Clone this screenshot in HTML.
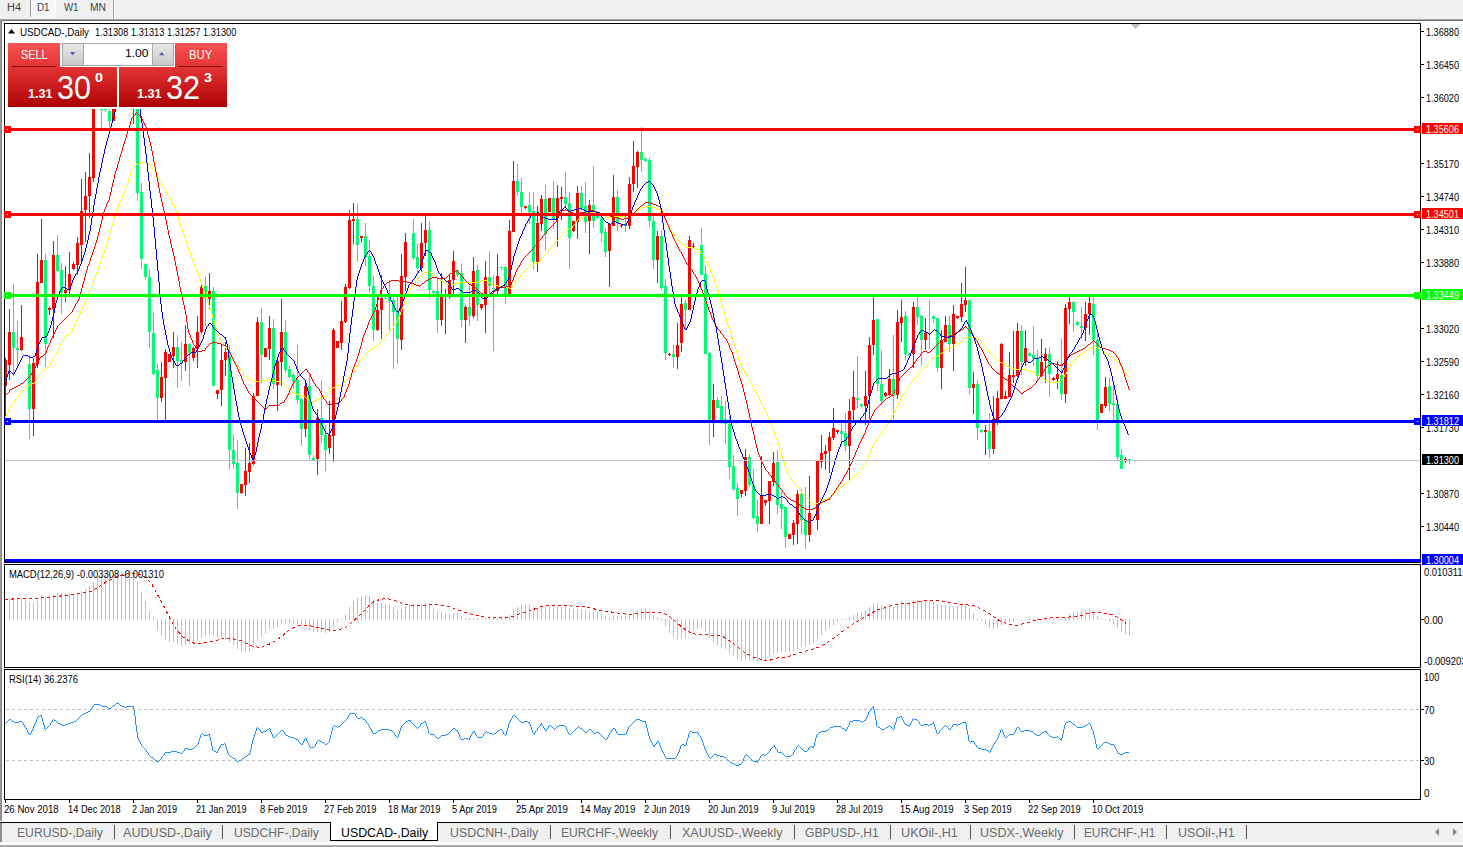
<!DOCTYPE html>
<html><head><meta charset="utf-8"><title>USDCAD-,Daily</title><style>
html,body{margin:0;padding:0;}
body{width:1463px;height:847px;overflow:hidden;background:#fff;position:relative;font-family:"Liberation Sans",sans-serif;}
.abs{position:absolute;}
.x{position:absolute;white-space:pre;}
.t{position:absolute;white-space:nowrap;font-size:11px;line-height:12px;color:#000;letter-spacing:-0.2px;}
.ax{position:absolute;white-space:nowrap;font-size:11px;line-height:12px;color:#000;left:1426px;letter-spacing:-0.3px;}
.axb{position:absolute;left:1421px;width:42px;height:11px;color:#fff;font-size:11px;line-height:11px;white-space:nowrap;letter-spacing:-0.3px;}
.axb span{position:absolute;left:5px;top:0;}
.tab{position:absolute;top:825px;font-size:14.5px;line-height:16px;color:#6a6a6a;white-space:nowrap;letter-spacing:-0.1px;}
.sep{position:absolute;top:825px;width:1px;height:14px;background:#555;}
.tf{position:absolute;top:1px;font-size:11px;line-height:12px;color:#444;white-space:nowrap;}
.dt{position:absolute;top:802px;font-size:11px;line-height:12px;color:#000;white-space:nowrap;letter-spacing:-0.25px;}
</style></head><body>
<div class="abs" style="left:0;top:0;width:1463px;height:19px;background:#f0f0f0"></div>
<div class="abs" style="left:0;top:19px;width:1463px;height:1px;background:#a8a8a8"></div>
<div class="abs" style="left:0;top:20px;width:1463px;height:1px;background:#6e6e6e"></div>
<div class="abs" style="left:31px;top:0;width:24px;height:17px;background:#f8f8f8"></div>
<div class="abs" style="left:55px;top:0;width:1px;height:18px;background:#fff"></div>
<div class="abs" style="left:30px;top:17px;width:26px;height:1px;background:#fff"></div>
<div class="abs" style="left:30px;top:0;width:1px;height:17px;background:#a0a0a0"></div>
<div class="abs" style="left:113px;top:0;width:1px;height:19px;background:#a0a0a0"></div>
<div class="abs" style="left:114px;top:0;width:1px;height:19px;background:#fff"></div>
<div class="x" style="left:7px;top:2.5px;font-size:10px;line-height:10px;color:#404040;transform:scale(1.0952,1.0000);transform-origin:0 0;">H4</div>
<div class="x" style="left:37px;top:2.5px;font-size:10px;line-height:10px;color:#404040;transform:scale(0.9778,1.0000);transform-origin:0 0;">D1</div>
<div class="x" style="left:64px;top:2.5px;font-size:10px;line-height:10px;color:#404040;transform:scale(0.9667,1.0000);transform-origin:0 0;">W1</div>
<div class="x" style="left:90px;top:2.5px;font-size:10px;line-height:10px;color:#404040;transform:scale(1.0288,1.0000);transform-origin:0 0;">MN</div>
<div class="abs" style="left:0;top:20px;width:2px;height:801px;background:linear-gradient(90deg,#a0a0a0,#808080)"></div>
<div class="abs" style="left:4px;top:23px;width:1417px;height:540px;border:1px solid #000;box-sizing:border-box"></div>
<div class="abs" style="left:4px;top:564px;width:1417px;height:104px;border:1px solid #000;box-sizing:border-box"></div>
<div class="abs" style="left:4px;top:669px;width:1417px;height:131px;border:1px solid #000;box-sizing:border-box"></div>
<svg class="abs" style="left:0;top:0" width="1463" height="847" viewBox="0 0 1463 847">
<defs>
<clipPath id="cm"><path clip-rule="evenodd" d="M5 24H1420V562H5Z M5 24H229V109H5Z"/></clipPath>
<clipPath id="c2"><rect x="5" y="565" width="1415" height="102"/></clipPath>
<clipPath id="c3"><rect x="5" y="670" width="1415" height="129"/></clipPath>
</defs>
<g clip-path="url(#cm)" shape-rendering="crispEdges">
<path fill="#00fc74" d="M13 284h1v92h-1zM12 332h3v16h-3zM17 321h1v45h-1zM16 348h3v2h-3zM29 355h1v84h-1zM28 364h3v45h-3zM45 254h1v113h-1zM44 260h3v84h-3zM57 235h1v37h-1zM56 255h3v16h-3zM61 263h1v51h-1zM60 270h3v23h-3zM101 90h1v38h-1zM100 92h3v18h-3zM105 95h1v17h-1zM104 100h3v10h-3zM109 95h1v32h-1zM108 111h3v10h-3zM137 80h1v121h-1zM136 90h3v103h-3zM141 183h1v86h-1zM140 192h3v67h-3zM145 263h1v17h-1zM144 264h3v13h-3zM149 270h1v78h-1zM148 277h3v55h-3zM153 313h1v62h-1zM152 333h3v41h-3zM157 364h1v56h-1zM156 370h3v28h-3zM177 335h1v53h-1zM176 347h3v14h-3zM181 342h1v39h-1zM180 360h3v3h-3zM189 343h1v43h-1zM188 344h3v9h-3zM205 277h1v49h-1zM204 286h3v12h-3zM213 287h1v99h-1zM212 291h3v95h-3zM229 345h1v125h-1zM228 352h3v98h-3zM233 434h1v35h-1zM232 450h3v14h-3zM237 440h1v69h-1zM236 463h3v30h-3zM261 308h1v75h-1zM260 322h3v33h-3zM273 319h1v70h-1zM272 328h3v56h-3zM285 320h1v53h-1zM284 332h3v38h-3zM289 366h1v12h-1zM288 369h3v8h-3zM293 373h1v16h-1zM292 375h3v6h-3zM297 345h1v59h-1zM296 380h3v20h-3zM301 398h1v48h-1zM300 399h3v30h-3zM309 374h1v85h-1zM308 386h3v69h-3zM313 455h1v6h-1zM312 458h3v2h-3zM321 380h1v63h-1zM320 418h3v17h-3zM325 425h1v46h-1zM324 435h3v15h-3zM357 204h1v58h-1zM356 219h3v26h-3zM365 223h1v43h-1zM364 236h3v21h-3zM369 240h1v53h-1zM368 256h3v30h-3zM373 276h1v65h-1zM372 286h3v44h-3zM385 297h1v2h-1zM384 298h3v1h-3zM389 280h1v50h-1zM388 296h3v5h-3zM393 297h1v72h-1zM392 300h3v12h-3zM397 297h1v67h-1zM396 310h3v29h-3zM413 219h1v41h-1zM412 233h3v25h-3zM417 244h1v30h-1zM416 257h3v11h-3zM429 221h1v78h-1zM428 230h3v60h-3zM433 290h1v4h-1zM432 291h3v2h-3zM437 276h1v57h-1zM436 291h3v29h-3zM457 271h1v6h-1zM456 271h3v4h-3zM461 264h1v63h-1zM460 273h3v47h-3zM469 286h1v40h-1zM468 307h3v9h-3zM477 265h1v56h-1zM476 270h3v35h-3zM489 251h1v43h-1zM488 277h3v9h-3zM493 275h1v76h-1zM492 288h3v1h-3zM501 267h1v3h-1zM500 267h3v1h-3zM505 266h1v38h-1zM504 267h3v27h-3zM517 164h1v32h-1zM516 181h3v11h-3zM521 178h1v35h-1zM520 192h3v15h-3zM529 192h1v32h-1zM528 205h3v7h-3zM533 192h1v77h-1zM532 211h3v51h-3zM545 185h1v65h-1zM544 199h3v35h-3zM553 181h1v48h-1zM552 198h3v22h-3zM565 172h1v36h-1zM564 197h3v7h-3zM569 192h1v77h-1zM568 203h3v35h-3zM581 186h1v24h-1zM580 193h3v15h-3zM585 182h1v51h-1zM584 206h3v16h-3zM593 166h1v62h-1zM592 205h3v16h-3zM597 216h1v2h-1zM596 216h3v2h-3zM601 217h1v25h-1zM600 218h3v15h-3zM605 228h1v29h-1zM604 232h3v20h-3zM617 190h1v41h-1zM616 197h3v26h-3zM625 216h1v16h-1zM624 224h3v2h-3zM641 127h1v45h-1zM640 152h3v8h-3zM645 157h1v5h-1zM644 159h3v2h-3zM649 158h1v69h-1zM648 160h3v61h-3zM653 216h1v53h-1zM652 221h3v39h-3zM661 230h1v60h-1zM660 236h3v52h-3zM665 279h1v81h-1zM664 286h3v67h-3zM673 345h1v23h-1zM672 354h3v3h-3zM685 300h1v30h-1zM684 303h3v7h-3zM701 228h1v47h-1zM700 245h3v30h-3zM705 266h1v88h-1zM704 274h3v80h-3zM709 352h1v93h-1zM708 353h3v67h-3zM717 397h1v11h-1zM716 400h3v8h-3zM721 396h1v28h-1zM720 406h3v14h-3zM725 401h1v43h-1zM724 419h3v5h-3zM729 416h1v63h-1zM728 424h3v43h-3zM733 455h1v36h-1zM732 466h3v23h-3zM737 483h1v33h-1zM736 488h3v11h-3zM749 454h1v33h-1zM748 457h3v28h-3zM753 469h1v50h-1zM752 485h3v33h-3zM757 500h1v32h-1zM756 516h3v8h-3zM777 450h1v64h-1zM776 462h3v43h-3zM781 492h1v37h-1zM780 504h3v5h-3zM785 506h1v42h-1zM784 507h3v30h-3zM801 489h1v45h-1zM800 494h3v26h-3zM805 487h1v62h-1zM804 520h3v15h-3zM841 423h1v23h-1zM840 431h3v3h-3zM845 413h1v38h-1zM844 433h3v13h-3zM857 356h1v52h-1zM856 398h3v2h-3zM861 404h1v4h-1zM860 404h3v2h-3zM877 319h1v72h-1zM876 319h3v65h-3zM881 350h1v55h-1zM880 384h3v17h-3zM893 335h1v85h-1zM892 379h3v17h-3zM905 311h1v49h-1zM904 316h3v38h-3zM909 353h1v4h-1zM908 354h3v2h-3zM917 297h1v28h-1zM916 307h3v10h-3zM921 315h1v51h-1zM920 316h3v24h-3zM929 300h1v49h-1zM928 333h3v1h-3zM933 316h1v7h-1zM932 316h3v3h-3zM937 318h1v54h-1zM936 318h3v50h-3zM949 316h1v36h-1zM948 325h3v19h-3zM969 300h1v94h-1zM968 300h3v88h-3zM977 380h1v60h-1zM976 384h3v44h-3zM981 429h1v4h-1zM980 430h3v2h-3zM989 413h1v45h-1zM988 431h3v18h-3zM1021 325h1v50h-1zM1020 331h3v31h-3zM1029 352h1v4h-1zM1028 353h3v3h-3zM1033 326h1v40h-1zM1032 355h3v4h-3zM1037 350h1v32h-1zM1036 359h3v17h-3zM1049 347h1v50h-1zM1048 354h3v20h-3zM1061 338h1v62h-1zM1060 375h3v19h-3zM1073 301h1v31h-1zM1072 302h3v10h-3zM1077 321h1v5h-1zM1076 322h3v3h-3zM1081 307h1v32h-1zM1080 326h3v2h-3zM1093 297h1v58h-1zM1092 304h3v36h-3zM1097 330h1v100h-1zM1096 340h3v80h-3zM1109 377h1v34h-1zM1108 386h3v18h-3zM1113 385h1v35h-1zM1112 403h3v2h-3zM1117 398h1v63h-1zM1116 404h3v53h-3zM1121 449h1v20h-1zM1120 455h3v14h-3zM1129 459h1v5h-1zM1128 459h3v1h-3z"/>
<path fill="#ff0000" d="M5 358h1v61h-1zM4 360h3v26h-3zM9 309h1v71h-1zM8 332h3v33h-3zM21 305h1v46h-1zM20 337h3v13h-3zM33 358h1v78h-1zM32 363h3v46h-3zM37 254h1v114h-1zM36 282h3v82h-3zM41 219h1v64h-1zM40 260h3v23h-3zM49 307h1v8h-1zM48 308h3v2h-3zM53 241h1v97h-1zM52 255h3v54h-3zM65 266h1v36h-1zM64 290h3v3h-3zM69 252h1v42h-1zM68 274h3v16h-3zM73 262h1v8h-1zM72 264h3v5h-3zM77 237h1v38h-1zM76 243h3v22h-3zM81 179h1v83h-1zM80 211h3v34h-3zM85 172h1v70h-1zM84 196h3v14h-3zM89 153h1v65h-1zM88 177h3v19h-3zM93 90h1v92h-1zM92 95h3v83h-3zM113 90h1v31h-1zM112 95h3v26h-3zM133 80h1v44h-1zM132 85h3v15h-3zM161 362h1v40h-1zM160 377h3v21h-3zM165 349h1v71h-1zM164 352h3v26h-3zM169 354h1v8h-1zM168 354h3v8h-3zM173 332h1v36h-1zM172 347h3v9h-3zM185 325h1v46h-1zM184 344h3v18h-3zM193 347h1v14h-1zM192 348h3v10h-3zM197 316h1v52h-1zM196 332h3v17h-3zM201 285h1v49h-1zM200 287h3v45h-3zM209 273h1v36h-1zM208 291h3v8h-3zM217 390h1v9h-1zM216 390h3v4h-3zM221 345h1v61h-1zM220 360h3v30h-3zM225 342h1v34h-1zM224 352h3v8h-3zM241 484h1v10h-1zM240 484h3v9h-3zM245 448h1v48h-1zM244 471h3v14h-3zM249 443h1v40h-1zM248 463h3v9h-3zM253 393h1v72h-1zM252 396h3v68h-3zM257 317h1v79h-1zM256 322h3v74h-3zM265 348h1v9h-1zM264 348h3v9h-3zM269 316h1v44h-1zM268 328h3v21h-3zM277 360h1v51h-1zM276 361h3v24h-3zM281 299h1v87h-1zM280 332h3v30h-3zM305 381h1v56h-1zM304 386h3v43h-3zM317 409h1v66h-1zM316 418h3v41h-3zM329 401h1v53h-1zM328 435h3v13h-3zM333 328h1v134h-1zM332 330h3v106h-3zM337 341h1v7h-1zM336 341h3v7h-3zM341 301h1v49h-1zM340 321h3v22h-3zM345 284h1v39h-1zM344 287h3v35h-3zM349 210h1v79h-1zM348 220h3v68h-3zM353 203h1v41h-1zM352 219h3v2h-3zM361 236h1v6h-1zM360 236h3v2h-3zM377 296h1v35h-1zM376 310h3v20h-3zM381 275h1v64h-1zM380 298h3v12h-3zM401 254h1v96h-1zM400 276h3v64h-3zM405 233h1v58h-1zM404 242h3v35h-3zM421 223h1v49h-1zM420 243h3v25h-3zM425 216h1v40h-1zM424 230h3v13h-3zM441 273h1v53h-1zM440 296h3v24h-3zM445 289h1v45h-1zM444 294h3v2h-3zM449 275h1v24h-1zM448 280h3v14h-3zM453 251h1v43h-1zM452 261h3v19h-3zM465 305h1v38h-1zM464 307h3v13h-3zM473 257h1v61h-1zM472 271h3v45h-3zM481 304h1v6h-1zM480 304h3v4h-3zM485 261h1v72h-1zM484 277h3v28h-3zM497 254h1v40h-1zM496 276h3v15h-3zM509 220h1v75h-1zM508 231h3v63h-3zM513 161h1v71h-1zM512 181h3v51h-3zM525 206h1v3h-1zM524 206h3v2h-3zM537 206h1v66h-1zM536 223h3v39h-3zM541 195h1v36h-1zM540 199h3v25h-3zM549 198h1v14h-1zM548 198h3v14h-3zM557 185h1v62h-1zM556 198h3v20h-3zM561 187h1v33h-1zM560 197h3v2h-3zM573 221h1v11h-1zM572 221h3v10h-3zM577 186h1v53h-1zM576 193h3v29h-3zM589 200h1v54h-1zM588 205h3v16h-3zM609 223h1v64h-1zM608 224h3v27h-3zM613 175h1v51h-1zM612 197h3v29h-3zM621 225h1v3h-1zM620 225h3v1h-3zM629 177h1v52h-1zM628 184h3v42h-3zM633 141h1v51h-1zM632 166h3v18h-3zM637 151h1v37h-1zM636 152h3v15h-3zM657 231h1v52h-1zM656 236h3v24h-3zM669 353h1v3h-1zM668 354h3v1h-3zM677 323h1v46h-1zM676 345h3v12h-3zM681 297h1v55h-1zM680 304h3v39h-3zM689 236h1v74h-1zM688 240h3v70h-3zM693 243h1v5h-1zM692 246h3v1h-3zM713 384h1v53h-1zM712 400h3v20h-3zM741 490h1v7h-1zM740 490h3v4h-3zM745 449h1v47h-1zM744 457h3v34h-3zM761 456h1v68h-1zM760 496h3v28h-3zM765 500h1v6h-1zM764 500h3v3h-3zM769 481h1v43h-1zM768 481h3v20h-3zM773 452h1v34h-1zM772 463h3v19h-3zM789 534h1v5h-1zM788 534h3v5h-3zM793 520h1v25h-1zM792 523h3v12h-3zM797 490h1v54h-1zM796 494h3v30h-3zM809 476h1v66h-1zM808 513h3v22h-3zM817 460h1v70h-1zM816 461h3v59h-3zM821 435h1v33h-1zM820 453h3v9h-3zM825 445h1v25h-1zM824 451h3v3h-3zM829 432h1v41h-1zM828 437h3v14h-3zM833 408h1v32h-1zM832 428h3v10h-3zM837 430h1v4h-1zM836 430h3v2h-3zM849 399h1v81h-1zM848 411h3v35h-3zM853 371h1v49h-1zM852 397h3v13h-3zM865 371h1v54h-1zM864 396h3v10h-3zM869 337h1v82h-1zM868 345h3v51h-3zM873 297h1v58h-1zM872 320h3v25h-3zM885 392h1v5h-1zM884 393h3v3h-3zM889 369h1v27h-1zM888 379h3v16h-3zM897 310h1v89h-1zM896 322h3v73h-3zM901 300h1v42h-1zM900 317h3v6h-3zM913 302h1v66h-1zM912 307h3v47h-3zM925 318h1v32h-1zM924 333h3v7h-3zM941 330h1v59h-1zM940 340h3v28h-3zM945 316h1v26h-1zM944 325h3v17h-3zM953 305h1v66h-1zM952 314h3v30h-3zM957 316h1v3h-1zM956 316h3v2h-3zM961 283h1v39h-1zM960 304h3v13h-3zM965 267h1v45h-1zM964 300h3v5h-3zM973 372h1v42h-1zM972 384h3v4h-3zM985 425h1v30h-1zM984 430h3v2h-3zM993 396h1v58h-1zM992 419h3v30h-3zM997 391h1v34h-1zM996 398h3v22h-3zM1001 343h1v56h-1zM1000 344h3v55h-3zM1005 391h1v8h-1zM1004 396h3v3h-3zM1009 352h1v45h-1zM1008 375h3v22h-3zM1013 331h1v52h-1zM1012 375h3v2h-3zM1017 323h1v54h-1zM1016 331h3v45h-3zM1025 330h1v36h-1zM1024 348h3v14h-3zM1041 339h1v38h-1zM1040 362h3v14h-3zM1045 348h1v35h-1zM1044 354h3v7h-3zM1053 377h1v4h-1zM1052 378h3v2h-3zM1057 361h1v28h-1zM1056 374h3v5h-3zM1065 304h1v99h-1zM1064 308h3v86h-3zM1069 297h1v27h-1zM1068 302h3v7h-3zM1085 302h1v39h-1zM1084 314h3v14h-3zM1089 297h1v38h-1zM1088 303h3v11h-3zM1101 404h1v9h-1zM1100 404h3v9h-3zM1105 377h1v31h-1zM1104 387h3v19h-3zM1125 457h1v6h-1zM1124 459h3v1h-3z"/>
<path fill="#ffff00" d="M4 417h1v1h-1zM5 416h1v2h-1zM6 414h1v2h-1zM7 412h1v2h-1zM8 410h1v2h-1zM9 408h1v2h-1zM10 406h1v2h-1zM11 404h1v2h-1zM12 403h1v1h-1zM13 402h1v1h-1zM14 400h1v2h-1zM15 399h1v1h-1zM16 398h1v1h-1zM17 397h1v1h-1zM18 395h1v2h-1zM19 394h1v1h-1zM20 393h1v1h-1zM21 392h1v1h-1zM22 391h1v1h-1zM23 390h1v1h-1zM24 389h1v1h-1zM25 387h1v2h-1zM26 386h1v1h-1zM27 385h1v1h-1zM28 385h1v1h-1zM29 385h1v1h-1zM30 384h1v1h-1zM31 384h1v1h-1zM32 383h1v1h-1zM33 383h1v1h-1zM34 382h1v1h-1zM35 380h1v2h-1zM36 379h1v1h-1zM37 377h1v2h-1zM38 376h1v1h-1zM39 374h1v2h-1zM40 373h1v1h-1zM41 371h1v2h-1zM42 370h1v1h-1zM43 370h1v1h-1zM44 369h1v1h-1zM45 369h1v1h-1zM46 368h1v1h-1zM47 367h1v1h-1zM48 367h1v1h-1zM49 365h1v2h-1zM50 363h1v2h-1zM51 361h1v2h-1zM52 359h1v2h-1zM53 357h1v2h-1zM54 356h1v1h-1zM55 354h1v2h-1zM56 352h1v2h-1zM57 350h1v2h-1zM58 348h1v2h-1zM59 346h1v2h-1zM60 344h1v2h-1zM61 342h1v2h-1zM62 341h1v1h-1zM63 339h1v2h-1zM64 337h1v2h-1zM65 336h1v1h-1zM66 335h1v1h-1zM67 334h1v1h-1zM68 334h1v1h-1zM69 333h1v1h-1zM70 333h1v1h-1zM71 331h1v2h-1zM72 328h1v3h-1zM73 326h1v2h-1zM74 324h1v2h-1zM75 322h1v2h-1zM76 320h1v2h-1zM77 318h1v2h-1zM78 316h1v2h-1zM79 314h1v2h-1zM80 311h1v3h-1zM81 309h1v2h-1zM82 307h1v2h-1zM83 305h1v2h-1zM84 302h1v3h-1zM85 300h1v2h-1zM86 298h1v2h-1zM87 295h1v3h-1zM88 293h1v2h-1zM89 290h1v3h-1zM90 288h1v2h-1zM91 285h1v3h-1zM92 283h1v2h-1zM93 280h1v3h-1zM94 278h1v2h-1zM95 275h1v3h-1zM96 272h1v3h-1zM97 269h1v3h-1zM98 266h1v3h-1zM99 264h1v2h-1zM100 261h1v3h-1zM101 258h1v3h-1zM102 255h1v3h-1zM103 253h1v2h-1zM104 250h1v3h-1zM105 247h1v3h-1zM106 243h1v4h-1zM107 240h1v3h-1zM108 237h1v3h-1zM109 233h1v4h-1zM110 230h1v3h-1zM111 226h1v4h-1zM112 223h1v3h-1zM113 219h1v4h-1zM114 216h1v3h-1zM115 212h1v4h-1zM116 209h1v3h-1zM117 207h1v2h-1zM118 204h1v3h-1zM119 202h1v2h-1zM120 200h1v2h-1zM121 198h1v2h-1zM122 195h1v3h-1zM123 193h1v2h-1zM124 191h1v2h-1zM125 188h1v3h-1zM126 186h1v2h-1zM127 183h1v3h-1zM128 179h1v4h-1zM129 176h1v3h-1zM130 173h1v3h-1zM131 170h1v3h-1zM132 169h1v1h-1zM133 167h1v2h-1zM134 166h1v1h-1zM135 165h1v1h-1zM136 164h1v1h-1zM137 164h1v1h-1zM138 163h1v1h-1zM139 163h1v1h-1zM140 163h1v1h-1zM141 163h1v1h-1zM142 162h1v1h-1zM143 162h1v1h-1zM144 162h1v1h-1zM145 162h1v1h-1zM146 162h1v1h-1zM147 162h1v1h-1zM148 163h1v1h-1zM149 164h1v1h-1zM150 164h1v1h-1zM151 165h1v2h-1zM152 167h1v2h-1zM153 169h1v1h-1zM154 170h1v2h-1zM155 172h1v2h-1zM156 174h1v1h-1zM157 175h1v2h-1zM158 177h1v2h-1zM159 179h1v2h-1zM160 181h1v1h-1zM161 182h1v2h-1zM162 184h1v2h-1zM163 186h1v2h-1zM164 188h1v1h-1zM165 189h1v2h-1zM166 191h1v2h-1zM167 193h1v2h-1zM168 195h1v1h-1zM169 196h1v2h-1zM170 198h1v2h-1zM171 200h1v2h-1zM172 202h1v2h-1zM173 204h1v1h-1zM174 205h1v3h-1zM175 208h1v3h-1zM176 211h1v3h-1zM177 214h1v3h-1zM178 217h1v3h-1zM179 220h1v3h-1zM180 223h1v3h-1zM181 226h1v3h-1zM182 229h1v3h-1zM183 232h1v3h-1zM184 235h1v3h-1zM185 238h1v3h-1zM186 241h1v3h-1zM187 244h1v3h-1zM188 247h1v3h-1zM189 250h1v2h-1zM190 252h1v3h-1zM191 255h1v3h-1zM192 258h1v3h-1zM193 261h1v3h-1zM194 264h1v2h-1zM195 266h1v3h-1zM196 269h1v2h-1zM197 271h1v2h-1zM198 273h1v3h-1zM199 276h1v3h-1zM200 279h1v3h-1zM201 282h1v3h-1zM202 285h1v3h-1zM203 288h1v3h-1zM204 291h1v3h-1zM205 294h1v3h-1zM206 297h1v2h-1zM207 299h1v3h-1zM208 302h1v3h-1zM209 305h1v3h-1zM210 308h1v3h-1zM211 311h1v3h-1zM212 314h1v4h-1zM213 318h1v3h-1zM214 321h1v4h-1zM215 325h1v3h-1zM216 328h1v3h-1zM217 331h1v3h-1zM218 334h1v2h-1zM219 336h1v2h-1zM220 338h1v2h-1zM221 340h1v2h-1zM222 342h1v1h-1zM223 343h1v2h-1zM224 345h1v1h-1zM225 346h1v2h-1zM226 348h1v2h-1zM227 350h1v1h-1zM228 351h1v2h-1zM229 353h1v2h-1zM230 355h1v1h-1zM231 356h1v2h-1zM232 358h1v1h-1zM233 359h1v2h-1zM234 361h1v1h-1zM235 362h1v2h-1zM236 364h1v1h-1zM237 365h1v1h-1zM238 366h1v1h-1zM239 367h1v2h-1zM240 369h1v1h-1zM241 370h1v1h-1zM242 371h1v1h-1zM243 372h1v2h-1zM244 374h1v1h-1zM245 375h1v1h-1zM246 376h1v1h-1zM247 377h1v1h-1zM248 378h1v1h-1zM249 379h1v1h-1zM250 379h1v1h-1zM251 380h1v1h-1zM252 380h1v1h-1zM253 381h1v1h-1zM254 381h1v1h-1zM255 381h1v1h-1zM256 381h1v1h-1zM257 381h1v1h-1zM258 381h1v1h-1zM259 381h1v1h-1zM260 381h1v1h-1zM261 380h1v1h-1zM262 380h1v1h-1zM263 380h1v1h-1zM264 380h1v1h-1zM265 380h1v1h-1zM266 380h1v1h-1zM267 379h1v1h-1zM268 379h1v1h-1zM269 379h1v1h-1zM270 380h1v1h-1zM271 380h1v1h-1zM272 380h1v1h-1zM273 380h1v1h-1zM274 380h1v1h-1zM275 381h1v1h-1zM276 381h1v1h-1zM277 381h1v1h-1zM278 381h1v1h-1zM279 381h1v1h-1zM280 381h1v1h-1zM281 381h1v1h-1zM282 382h1v1h-1zM283 383h1v1h-1zM284 384h1v1h-1zM285 385h1v1h-1zM286 386h1v1h-1zM287 387h1v1h-1zM288 388h1v1h-1zM289 389h1v1h-1zM290 390h1v1h-1zM291 391h1v1h-1zM292 392h1v1h-1zM293 392h1v1h-1zM294 393h1v1h-1zM295 393h1v1h-1zM296 394h1v1h-1zM297 394h1v1h-1zM298 394h1v1h-1zM299 395h1v1h-1zM300 395h1v1h-1zM301 395h1v1h-1zM302 396h1v1h-1zM303 396h1v1h-1zM304 396h1v1h-1zM305 397h1v1h-1zM306 398h1v1h-1zM307 398h1v1h-1zM308 399h1v1h-1zM309 400h1v1h-1zM310 401h1v1h-1zM311 402h1v1h-1zM312 401h1v1h-1zM313 401h1v1h-1zM314 401h1v1h-1zM315 400h1v1h-1zM316 400h1v1h-1zM317 399h1v1h-1zM318 399h1v1h-1zM319 399h1v1h-1zM320 398h1v1h-1zM321 398h1v1h-1zM322 397h1v1h-1zM323 397h1v1h-1zM324 396h1v1h-1zM325 396h1v1h-1zM326 396h1v1h-1zM327 394h1v2h-1zM328 393h1v1h-1zM329 392h1v1h-1zM330 390h1v2h-1zM331 389h1v1h-1zM332 388h1v1h-1zM333 387h1v1h-1zM334 387h1v1h-1zM335 386h1v1h-1zM336 385h1v1h-1zM337 385h1v1h-1zM338 385h1v1h-1zM339 385h1v1h-1zM340 385h1v1h-1zM341 385h1v1h-1zM342 384h1v1h-1zM343 383h1v1h-1zM344 381h1v2h-1zM345 380h1v1h-1zM346 379h1v1h-1zM347 378h1v1h-1zM348 377h1v1h-1zM349 376h1v1h-1zM350 375h1v1h-1zM351 373h1v2h-1zM352 372h1v1h-1zM353 371h1v1h-1zM354 369h1v2h-1zM355 368h1v1h-1zM356 366h1v2h-1zM357 364h1v2h-1zM358 363h1v1h-1zM359 361h1v2h-1zM360 360h1v1h-1zM361 359h1v1h-1zM362 357h1v2h-1zM363 356h1v1h-1zM364 355h1v1h-1zM365 354h1v1h-1zM366 353h1v1h-1zM367 352h1v1h-1zM368 351h1v1h-1zM369 350h1v1h-1zM370 349h1v1h-1zM371 349h1v1h-1zM372 348h1v1h-1zM373 348h1v1h-1zM374 347h1v1h-1zM375 346h1v1h-1zM376 346h1v1h-1zM377 345h1v1h-1zM378 344h1v1h-1zM379 343h1v1h-1zM380 342h1v1h-1zM381 341h1v1h-1zM382 340h1v1h-1zM383 339h1v1h-1zM384 338h1v1h-1zM385 336h1v2h-1zM386 335h1v1h-1zM387 334h1v1h-1zM388 333h1v1h-1zM389 331h1v2h-1zM390 330h1v1h-1zM391 329h1v1h-1zM392 328h1v1h-1zM393 326h1v2h-1zM394 324h1v2h-1zM395 323h1v1h-1zM396 321h1v2h-1zM397 319h1v2h-1zM398 317h1v2h-1zM399 315h1v2h-1zM400 312h1v3h-1zM401 309h1v3h-1zM402 307h1v2h-1zM403 304h1v3h-1zM404 301h1v3h-1zM405 299h1v2h-1zM406 297h1v2h-1zM407 294h1v3h-1zM408 292h1v2h-1zM409 290h1v2h-1zM410 288h1v2h-1zM411 287h1v1h-1zM412 285h1v2h-1zM413 284h1v1h-1zM414 283h1v1h-1zM415 281h1v2h-1zM416 280h1v1h-1zM417 279h1v1h-1zM418 278h1v1h-1zM419 277h1v1h-1zM420 276h1v1h-1zM421 275h1v1h-1zM422 274h1v1h-1zM423 273h1v1h-1zM424 272h1v1h-1zM425 272h1v1h-1zM426 272h1v1h-1zM427 271h1v1h-1zM428 271h1v1h-1zM429 272h1v1h-1zM430 272h1v1h-1zM431 273h1v1h-1zM432 273h1v1h-1zM433 274h1v1h-1zM434 275h1v1h-1zM435 276h1v1h-1zM436 277h1v1h-1zM437 277h1v1h-1zM438 278h1v1h-1zM439 279h1v1h-1zM440 280h1v1h-1zM441 280h1v1h-1zM442 281h1v1h-1zM443 282h1v1h-1zM444 282h1v1h-1zM445 283h1v1h-1zM446 283h1v1h-1zM447 284h1v1h-1zM448 284h1v1h-1zM449 284h1v1h-1zM450 285h1v1h-1zM451 285h1v1h-1zM452 284h1v1h-1zM453 284h1v1h-1zM454 284h1v1h-1zM455 283h1v1h-1zM456 283h1v1h-1zM457 283h1v1h-1zM458 283h1v1h-1zM459 282h1v1h-1zM460 282h1v1h-1zM461 282h1v1h-1zM462 282h1v1h-1zM463 282h1v1h-1zM464 282h1v1h-1zM465 282h1v1h-1zM466 282h1v1h-1zM467 282h1v1h-1zM468 282h1v1h-1zM469 282h1v1h-1zM470 282h1v1h-1zM471 282h1v1h-1zM472 282h1v1h-1zM473 282h1v1h-1zM474 282h1v1h-1zM475 282h1v1h-1zM476 282h1v1h-1zM477 282h1v1h-1zM478 281h1v1h-1zM479 281h1v1h-1zM480 281h1v1h-1zM481 280h1v1h-1zM482 280h1v1h-1zM483 280h1v1h-1zM484 280h1v1h-1zM485 280h1v1h-1zM486 280h1v1h-1zM487 281h1v1h-1zM488 282h1v1h-1zM489 282h1v1h-1zM490 283h1v1h-1zM491 284h1v1h-1zM492 284h1v1h-1zM493 285h1v1h-1zM494 285h1v1h-1zM495 285h1v1h-1zM496 285h1v1h-1zM497 285h1v1h-1zM498 286h1v1h-1zM499 286h1v1h-1zM500 286h1v1h-1zM501 286h1v1h-1zM502 286h1v1h-1zM503 286h1v1h-1zM504 287h1v1h-1zM505 287h1v1h-1zM506 287h1v1h-1zM507 287h1v1h-1zM508 287h1v1h-1zM509 288h1v1h-1zM510 288h1v1h-1zM511 287h1v1h-1zM512 285h1v2h-1zM513 284h1v1h-1zM514 283h1v1h-1zM515 282h1v1h-1zM516 281h1v1h-1zM517 279h1v2h-1zM518 278h1v1h-1zM519 277h1v1h-1zM520 275h1v2h-1zM521 274h1v1h-1zM522 273h1v1h-1zM523 272h1v1h-1zM524 271h1v1h-1zM525 270h1v1h-1zM526 269h1v1h-1zM527 268h1v1h-1zM528 267h1v1h-1zM529 266h1v1h-1zM530 265h1v1h-1zM531 265h1v1h-1zM532 264h1v1h-1zM533 264h1v1h-1zM534 263h1v1h-1zM535 263h1v1h-1zM536 263h1v1h-1zM537 262h1v1h-1zM538 262h1v1h-1zM539 261h1v1h-1zM540 259h1v2h-1zM541 258h1v1h-1zM542 257h1v1h-1zM543 256h1v1h-1zM544 255h1v1h-1zM545 254h1v1h-1zM546 253h1v1h-1zM547 251h1v2h-1zM548 250h1v1h-1zM549 249h1v1h-1zM550 248h1v1h-1zM551 246h1v2h-1zM552 245h1v1h-1zM553 244h1v1h-1zM554 243h1v1h-1zM555 242h1v1h-1zM556 241h1v1h-1zM557 240h1v1h-1zM558 239h1v1h-1zM559 238h1v1h-1zM560 237h1v1h-1zM561 235h1v2h-1zM562 234h1v1h-1zM563 233h1v1h-1zM564 232h1v1h-1zM565 231h1v1h-1zM566 230h1v1h-1zM567 229h1v1h-1zM568 229h1v1h-1zM569 228h1v1h-1zM570 228h1v1h-1zM571 227h1v1h-1zM572 226h1v2h-1zM573 225h1v1h-1zM574 224h1v1h-1zM575 222h1v2h-1zM576 221h1v1h-1zM577 220h1v1h-1zM578 219h1v1h-1zM579 218h1v1h-1zM580 218h1v1h-1zM581 217h1v1h-1zM582 217h1v1h-1zM583 216h1v1h-1zM584 216h1v1h-1zM585 215h1v1h-1zM586 215h1v1h-1zM587 214h1v1h-1zM588 213h1v1h-1zM589 213h1v1h-1zM590 212h1v1h-1zM591 212h1v1h-1zM592 212h1v1h-1zM593 212h1v1h-1zM594 212h1v1h-1zM595 212h1v1h-1zM596 212h1v1h-1zM597 212h1v1h-1zM598 213h1v1h-1zM599 213h1v1h-1zM600 213h1v1h-1zM601 214h1v1h-1zM602 214h1v1h-1zM603 215h1v1h-1zM604 215h1v1h-1zM605 216h1v1h-1zM606 216h1v1h-1zM607 217h1v1h-1zM608 217h1v1h-1zM609 217h1v1h-1zM610 217h1v1h-1zM611 217h1v1h-1zM612 216h1v1h-1zM613 216h1v1h-1zM614 216h1v1h-1zM615 216h1v1h-1zM616 216h1v1h-1zM617 216h1v1h-1zM618 216h1v1h-1zM619 216h1v1h-1zM620 216h1v1h-1zM621 216h1v1h-1zM622 216h1v1h-1zM623 216h1v1h-1zM624 216h1v1h-1zM625 215h1v1h-1zM626 215h1v1h-1zM627 215h1v1h-1zM628 214h1v1h-1zM629 214h1v1h-1zM630 214h1v1h-1zM631 213h1v1h-1zM632 213h1v1h-1zM633 212h1v1h-1zM634 212h1v1h-1zM635 211h1v1h-1zM636 211h1v1h-1zM637 210h1v1h-1zM638 209h1v1h-1zM639 209h1v1h-1zM640 208h1v1h-1zM641 207h1v1h-1zM642 207h1v1h-1zM643 207h1v1h-1zM644 207h1v1h-1zM645 206h1v1h-1zM646 206h1v1h-1zM647 206h1v1h-1zM648 206h1v1h-1zM649 206h1v1h-1zM650 206h1v1h-1zM651 207h1v1h-1zM652 207h1v1h-1zM653 207h1v1h-1zM654 207h1v1h-1zM655 208h1v1h-1zM656 208h1v1h-1zM657 208h1v1h-1zM658 209h1v1h-1zM659 209h1v1h-1zM660 210h1v2h-1zM661 212h1v1h-1zM662 213h1v2h-1zM663 215h1v2h-1zM664 217h1v2h-1zM665 219h1v2h-1zM666 221h1v2h-1zM667 223h1v2h-1zM668 225h1v3h-1zM669 228h1v1h-1zM670 229h1v2h-1zM671 231h1v1h-1zM672 232h1v2h-1zM673 234h1v1h-1zM674 235h1v2h-1zM675 237h1v1h-1zM676 238h1v1h-1zM677 239h1v1h-1zM678 240h1v1h-1zM679 241h1v1h-1zM680 242h1v1h-1zM681 243h1v1h-1zM682 244h1v1h-1zM683 244h1v1h-1zM684 245h1v1h-1zM685 246h1v1h-1zM686 247h1v1h-1zM687 247h1v1h-1zM688 247h1v1h-1zM689 247h1v1h-1zM690 247h1v1h-1zM691 247h1v1h-1zM692 247h1v1h-1zM693 248h1v1h-1zM694 248h1v1h-1zM695 248h1v1h-1zM696 249h1v1h-1zM697 249h1v1h-1zM698 249h1v1h-1zM699 250h1v1h-1zM700 251h1v2h-1zM701 253h1v1h-1zM702 254h1v1h-1zM703 255h1v2h-1zM704 257h1v2h-1zM705 259h1v2h-1zM706 261h1v2h-1zM707 263h1v2h-1zM708 265h1v2h-1zM709 267h1v2h-1zM710 269h1v3h-1zM711 272h1v2h-1zM712 274h1v3h-1zM713 277h1v2h-1zM714 279h1v3h-1zM715 282h1v3h-1zM716 285h1v3h-1zM717 288h1v2h-1zM718 290h1v4h-1zM719 294h1v3h-1zM720 297h1v4h-1zM721 301h1v4h-1zM722 305h1v3h-1zM723 308h1v4h-1zM724 312h1v3h-1zM725 315h1v3h-1zM726 318h1v4h-1zM727 322h1v3h-1zM728 325h1v3h-1zM729 328h1v3h-1zM730 331h1v3h-1zM731 334h1v3h-1zM732 337h1v3h-1zM733 340h1v3h-1zM734 343h1v3h-1zM735 346h1v4h-1zM736 350h1v3h-1zM737 353h1v3h-1zM738 356h1v4h-1zM739 360h1v3h-1zM740 363h1v3h-1zM741 366h1v2h-1zM742 368h1v2h-1zM743 370h1v1h-1zM744 371h1v2h-1zM745 373h1v1h-1zM746 374h1v2h-1zM747 376h1v2h-1zM748 378h1v1h-1zM749 379h1v2h-1zM750 381h1v2h-1zM751 383h1v2h-1zM752 385h1v2h-1zM753 387h1v2h-1zM754 389h1v2h-1zM755 391h1v1h-1zM756 392h1v2h-1zM757 394h1v2h-1zM758 396h1v2h-1zM759 398h1v2h-1zM760 400h1v2h-1zM761 402h1v2h-1zM762 404h1v2h-1zM763 406h1v2h-1zM764 408h1v2h-1zM765 410h1v2h-1zM766 412h1v2h-1zM767 414h1v3h-1zM768 417h1v2h-1zM769 419h1v3h-1zM770 422h1v2h-1zM771 424h1v3h-1zM772 427h1v2h-1zM773 429h1v3h-1zM774 432h1v3h-1zM775 435h1v3h-1zM776 438h1v2h-1zM777 440h1v3h-1zM778 443h1v3h-1zM779 446h1v3h-1zM780 449h1v4h-1zM781 453h1v3h-1zM782 456h1v3h-1zM783 459h1v3h-1zM784 462h1v4h-1zM785 466h1v3h-1zM786 469h1v2h-1zM787 471h1v2h-1zM788 473h1v2h-1zM789 475h1v2h-1zM790 477h1v1h-1zM791 478h1v2h-1zM792 480h1v1h-1zM793 481h1v1h-1zM794 482h1v1h-1zM795 483h1v2h-1zM796 485h1v1h-1zM797 486h1v1h-1zM798 487h1v1h-1zM799 488h1v2h-1zM800 490h1v1h-1zM801 491h1v2h-1zM802 493h1v1h-1zM803 494h1v1h-1zM804 495h1v1h-1zM805 496h1v1h-1zM806 497h1v1h-1zM807 498h1v1h-1zM808 499h1v1h-1zM809 500h1v1h-1zM810 501h1v1h-1zM811 502h1v1h-1zM812 503h1v1h-1zM813 503h1v1h-1zM814 504h1v1h-1zM815 503h1v1h-1zM816 503h1v1h-1zM817 503h1v1h-1zM818 502h1v1h-1zM819 502h1v1h-1zM820 501h1v1h-1zM821 500h1v1h-1zM822 500h1v1h-1zM823 500h1v1h-1zM824 499h1v1h-1zM825 499h1v1h-1zM826 499h1v1h-1zM827 498h1v1h-1zM828 498h1v1h-1zM829 498h1v1h-1zM830 497h1v1h-1zM831 496h1v1h-1zM832 495h1v1h-1zM833 494h1v1h-1zM834 493h1v1h-1zM835 492h1v1h-1zM836 491h1v1h-1zM837 490h1v1h-1zM838 489h1v1h-1zM839 488h1v1h-1zM840 487h1v1h-1zM841 486h1v1h-1zM842 486h1v1h-1zM843 485h1v1h-1zM844 484h1v1h-1zM845 484h1v1h-1zM846 483h1v1h-1zM847 482h1v1h-1zM848 481h1v1h-1zM849 480h1v1h-1zM850 479h1v1h-1zM851 478h1v1h-1zM852 477h1v1h-1zM853 476h1v1h-1zM854 475h1v1h-1zM855 475h1v1h-1zM856 474h1v1h-1zM857 473h1v1h-1zM858 472h1v1h-1zM859 470h1v2h-1zM860 469h1v1h-1zM861 468h1v1h-1zM862 467h1v1h-1zM863 465h1v2h-1zM864 464h1v1h-1zM865 462h1v2h-1zM866 460h1v2h-1zM867 458h1v2h-1zM868 455h1v3h-1zM869 453h1v2h-1zM870 451h1v2h-1zM871 448h1v3h-1zM872 446h1v2h-1zM873 443h1v3h-1zM874 442h1v1h-1zM875 441h1v1h-1zM876 439h1v2h-1zM877 438h1v1h-1zM878 437h1v1h-1zM879 435h1v2h-1zM880 434h1v1h-1zM881 433h1v1h-1zM882 431h1v2h-1zM883 430h1v1h-1zM884 429h1v1h-1zM885 427h1v2h-1zM886 426h1v1h-1zM887 424h1v2h-1zM888 423h1v1h-1zM889 421h1v2h-1zM890 419h1v2h-1zM891 417h1v2h-1zM892 415h1v2h-1zM893 413h1v2h-1zM894 411h1v2h-1zM895 409h1v2h-1zM896 407h1v2h-1zM897 405h1v2h-1zM898 403h1v2h-1zM899 401h1v2h-1zM900 399h1v2h-1zM901 397h1v2h-1zM902 395h1v2h-1zM903 394h1v1h-1zM904 393h1v1h-1zM905 391h1v2h-1zM906 390h1v1h-1zM907 388h1v2h-1zM908 387h1v1h-1zM909 385h1v2h-1zM910 384h1v1h-1zM911 382h1v2h-1zM912 381h1v1h-1zM913 380h1v1h-1zM914 378h1v2h-1zM915 377h1v1h-1zM916 376h1v1h-1zM917 375h1v1h-1zM918 373h1v2h-1zM919 372h1v1h-1zM920 371h1v1h-1zM921 370h1v1h-1zM922 369h1v1h-1zM923 368h1v1h-1zM924 367h1v1h-1zM925 366h1v1h-1zM926 365h1v1h-1zM927 364h1v1h-1zM928 363h1v1h-1zM929 362h1v1h-1zM930 361h1v1h-1zM931 360h1v1h-1zM932 359h1v1h-1zM933 358h1v1h-1zM934 357h1v1h-1zM935 356h1v1h-1zM936 356h1v1h-1zM937 355h1v1h-1zM938 355h1v1h-1zM939 354h1v1h-1zM940 353h1v1h-1zM941 353h1v1h-1zM942 352h1v1h-1zM943 351h1v1h-1zM944 350h1v1h-1zM945 350h1v1h-1zM946 349h1v1h-1zM947 348h1v1h-1zM948 348h1v1h-1zM949 347h1v1h-1zM950 347h1v1h-1zM951 347h1v1h-1zM952 346h1v1h-1zM953 346h1v1h-1zM954 346h1v1h-1zM955 345h1v1h-1zM956 345h1v1h-1zM957 344h1v1h-1zM958 343h1v1h-1zM959 342h1v1h-1zM960 342h1v1h-1zM961 341h1v1h-1zM962 340h1v1h-1zM963 339h1v1h-1zM964 338h1v1h-1zM965 338h1v1h-1zM966 337h1v1h-1zM967 337h1v1h-1zM968 337h1v1h-1zM969 337h1v1h-1zM970 337h1v1h-1zM971 337h1v1h-1zM972 337h1v1h-1zM973 337h1v1h-1zM974 338h1v1h-1zM975 338h1v1h-1zM976 338h1v1h-1zM977 338h1v1h-1zM978 339h1v1h-1zM979 339h1v1h-1zM980 340h1v1h-1zM981 341h1v2h-1zM982 343h1v1h-1zM983 344h1v1h-1zM984 345h1v1h-1zM985 346h1v2h-1zM986 348h1v1h-1zM987 349h1v1h-1zM988 350h1v2h-1zM989 352h1v1h-1zM990 353h1v1h-1zM991 354h1v1h-1zM992 355h1v1h-1zM993 356h1v1h-1zM994 357h1v1h-1zM995 358h1v1h-1zM996 359h1v1h-1zM997 360h1v1h-1zM998 360h1v1h-1zM999 361h1v1h-1zM1000 362h1v1h-1zM1001 362h1v1h-1zM1002 363h1v1h-1zM1003 364h1v1h-1zM1004 364h1v1h-1zM1005 365h1v1h-1zM1006 365h1v1h-1zM1007 366h1v1h-1zM1008 366h1v1h-1zM1009 367h1v1h-1zM1010 367h1v1h-1zM1011 368h1v1h-1zM1012 368h1v1h-1zM1013 368h1v1h-1zM1014 369h1v1h-1zM1015 369h1v1h-1zM1016 369h1v1h-1zM1017 369h1v1h-1zM1018 369h1v1h-1zM1019 369h1v1h-1zM1020 369h1v1h-1zM1021 369h1v1h-1zM1022 369h1v1h-1zM1023 369h1v1h-1zM1024 369h1v1h-1zM1025 369h1v1h-1zM1026 369h1v1h-1zM1027 370h1v1h-1zM1028 370h1v1h-1zM1029 370h1v1h-1zM1030 371h1v1h-1zM1031 371h1v1h-1zM1032 371h1v1h-1zM1033 372h1v1h-1zM1034 372h1v1h-1zM1035 373h1v1h-1zM1036 373h1v1h-1zM1037 374h1v1h-1zM1038 375h1v1h-1zM1039 375h1v1h-1zM1040 376h1v1h-1zM1041 377h1v1h-1zM1042 378h1v1h-1zM1043 378h1v1h-1zM1044 379h1v1h-1zM1045 380h1v1h-1zM1046 380h1v1h-1zM1047 381h1v1h-1zM1048 381h1v1h-1zM1049 382h1v1h-1zM1050 382h1v1h-1zM1051 382h1v1h-1zM1052 382h1v1h-1zM1053 382h1v1h-1zM1054 382h1v1h-1zM1055 382h1v1h-1zM1056 382h1v1h-1zM1057 382h1v1h-1zM1058 381h1v1h-1zM1059 381h1v1h-1zM1060 381h1v1h-1zM1061 380h1v1h-1zM1062 379h1v1h-1zM1063 377h1v2h-1zM1064 375h1v2h-1zM1065 374h1v1h-1zM1066 372h1v2h-1zM1067 370h1v2h-1zM1068 368h1v2h-1zM1069 366h1v2h-1zM1070 364h1v2h-1zM1071 363h1v1h-1zM1072 362h1v1h-1zM1073 361h1v1h-1zM1074 360h1v1h-1zM1075 358h1v2h-1zM1076 357h1v1h-1zM1077 356h1v1h-1zM1078 356h1v1h-1zM1079 355h1v1h-1zM1080 354h1v1h-1zM1081 354h1v1h-1zM1082 353h1v1h-1zM1083 352h1v1h-1zM1084 352h1v1h-1zM1085 351h1v1h-1zM1086 350h1v1h-1zM1087 350h1v1h-1zM1088 349h1v1h-1zM1089 348h1v1h-1zM1090 348h1v1h-1zM1091 347h1v1h-1zM1092 347h1v1h-1zM1093 346h1v1h-1zM1094 346h1v1h-1zM1095 346h1v1h-1zM1096 347h1v1h-1zM1097 348h1v1h-1zM1098 348h1v1h-1zM1099 349h1v1h-1zM1100 349h1v1h-1zM1101 350h1v1h-1zM1102 351h1v1h-1zM1103 351h1v1h-1zM1104 352h1v1h-1zM1105 353h1v1h-1zM1106 353h1v1h-1zM1107 354h1v1h-1zM1108 354h1v1h-1zM1109 355h1v1h-1zM1110 356h1v1h-1zM1111 356h1v1h-1zM1112 357h1v1h-1zM1113 358h1v1h-1zM1114 359h1v1h-1zM1115 360h1v1h-1zM1116 360h1v1h-1zM1117 361h1v1h-1zM1118 362h1v1h-1zM1119 363h1v2h-1zM1120 365h1v1h-1zM1121 366h1v1h-1zM1122 367h1v2h-1zM1123 369h1v1h-1zM1124 370h1v2h-1zM1125 372h1v1h-1zM1126 373h1v1h-1zM1127 374h1v2h-1zM1128 376h1v1h-1z"/>
<path fill="#ff0000" d="M4 395h1v1h-1zM5 395h1v1h-1zM6 394h1v1h-1zM7 393h1v1h-1zM8 392h1v1h-1zM9 390h1v2h-1zM10 389h1v1h-1zM11 389h1v1h-1zM12 388h1v1h-1zM13 388h1v1h-1zM14 387h1v1h-1zM15 387h1v1h-1zM16 386h1v1h-1zM17 386h1v1h-1zM18 385h1v1h-1zM19 385h1v1h-1zM20 384h1v1h-1zM21 383h1v1h-1zM22 383h1v1h-1zM23 382h1v1h-1zM24 381h1v1h-1zM25 380h1v1h-1zM26 379h1v1h-1zM27 378h1v1h-1zM28 377h1v1h-1zM29 376h1v1h-1zM30 375h1v1h-1zM31 373h1v2h-1zM32 372h1v1h-1zM33 370h1v2h-1zM34 368h1v2h-1zM35 366h1v2h-1zM36 364h1v2h-1zM37 362h1v2h-1zM38 360h1v2h-1zM39 358h1v2h-1zM40 357h1v1h-1zM41 356h1v1h-1zM42 356h1v1h-1zM43 355h1v1h-1zM44 354h1v1h-1zM45 353h1v1h-1zM46 350h1v3h-1zM47 347h1v3h-1zM48 345h1v2h-1zM49 343h1v2h-1zM50 340h1v3h-1zM51 338h1v2h-1zM52 336h1v2h-1zM53 334h1v2h-1zM54 332h1v2h-1zM55 330h1v2h-1zM56 328h1v2h-1zM57 326h1v2h-1zM58 325h1v1h-1zM59 324h1v1h-1zM60 323h1v1h-1zM61 322h1v1h-1zM62 321h1v1h-1zM63 320h1v1h-1zM64 319h1v1h-1zM65 318h1v1h-1zM66 317h1v1h-1zM67 316h1v1h-1zM68 315h1v1h-1zM69 314h1v1h-1zM70 313h1v1h-1zM71 312h1v1h-1zM72 310h1v2h-1zM73 308h1v2h-1zM74 306h1v2h-1zM75 304h1v2h-1zM76 303h1v1h-1zM77 301h1v2h-1zM78 299h1v2h-1zM79 296h1v3h-1zM80 292h1v4h-1zM81 288h1v4h-1zM82 284h1v4h-1zM83 281h1v3h-1zM84 277h1v4h-1zM85 273h1v4h-1zM86 270h1v3h-1zM87 266h1v4h-1zM88 264h1v2h-1zM89 261h1v3h-1zM90 258h1v3h-1zM91 255h1v3h-1zM92 252h1v3h-1zM93 249h1v3h-1zM94 246h1v3h-1zM95 243h1v3h-1zM96 240h1v3h-1zM97 236h1v4h-1zM98 232h1v4h-1zM99 228h1v4h-1zM100 224h1v4h-1zM101 220h1v4h-1zM102 216h1v4h-1zM103 212h1v4h-1zM104 209h1v3h-1zM105 207h1v2h-1zM106 204h1v3h-1zM107 202h1v2h-1zM108 200h1v2h-1zM109 196h1v4h-1zM110 192h1v4h-1zM111 187h1v5h-1zM112 183h1v4h-1zM113 179h1v4h-1zM114 174h1v5h-1zM115 171h1v3h-1zM116 168h1v3h-1zM117 164h1v4h-1zM118 161h1v3h-1zM119 157h1v4h-1zM120 154h1v3h-1zM121 151h1v3h-1zM122 147h1v4h-1zM123 144h1v3h-1zM124 141h1v3h-1zM125 138h1v3h-1zM126 134h1v4h-1zM127 131h1v3h-1zM128 128h1v3h-1zM129 125h1v3h-1zM130 121h1v4h-1zM131 118h1v3h-1zM132 117h1v1h-1zM133 116h1v1h-1zM134 115h1v1h-1zM135 113h1v2h-1zM136 112h1v1h-1zM137 113h1v1h-1zM138 114h1v1h-1zM139 115h1v1h-1zM140 116h1v2h-1zM141 118h1v1h-1zM142 119h1v2h-1zM143 121h1v2h-1zM144 123h1v2h-1zM145 125h1v2h-1zM146 127h1v4h-1zM147 131h1v4h-1zM148 135h1v3h-1zM149 138h1v4h-1zM150 142h1v4h-1zM151 146h1v5h-1zM152 151h1v5h-1zM153 156h1v6h-1zM154 162h1v5h-1zM155 167h1v5h-1zM156 172h1v5h-1zM157 177h1v5h-1zM158 182h1v6h-1zM159 188h1v5h-1zM160 193h1v5h-1zM161 198h1v4h-1zM162 202h1v5h-1zM163 207h1v4h-1zM164 211h1v4h-1zM165 215h1v5h-1zM166 220h1v5h-1zM167 225h1v5h-1zM168 230h1v5h-1zM169 235h1v4h-1zM170 239h1v5h-1zM171 244h1v4h-1zM172 248h1v4h-1zM173 252h1v4h-1zM174 256h1v5h-1zM175 261h1v5h-1zM176 266h1v5h-1zM177 271h1v5h-1zM178 276h1v5h-1zM179 281h1v6h-1zM180 287h1v5h-1zM181 292h1v4h-1zM182 296h1v5h-1zM183 301h1v4h-1zM184 305h1v5h-1zM185 310h1v5h-1zM186 315h1v7h-1zM187 322h1v7h-1zM188 329h1v4h-1zM189 333h1v2h-1zM190 335h1v3h-1zM191 338h1v2h-1zM192 340h1v3h-1zM193 343h1v2h-1zM194 345h1v1h-1zM195 346h1v2h-1zM196 348h1v1h-1zM197 349h1v2h-1zM198 351h1v1h-1zM199 351h1v1h-1zM200 351h1v1h-1zM201 351h1v1h-1zM202 350h1v1h-1zM203 350h1v1h-1zM204 350h1v1h-1zM205 348h1v2h-1zM206 347h1v1h-1zM207 346h1v1h-1zM208 345h1v1h-1zM209 344h1v1h-1zM210 343h1v1h-1zM211 343h1v1h-1zM212 342h1v1h-1zM213 342h1v1h-1zM214 342h1v1h-1zM215 342h1v1h-1zM216 342h1v1h-1zM217 343h1v1h-1zM218 343h1v1h-1zM219 343h1v1h-1zM220 343h1v1h-1zM221 344h1v1h-1zM222 344h1v1h-1zM223 345h1v1h-1zM224 345h1v1h-1zM225 345h1v1h-1zM226 346h1v1h-1zM227 347h1v2h-1zM228 349h1v2h-1zM229 351h1v2h-1zM230 353h1v2h-1zM231 355h1v2h-1zM232 357h1v2h-1zM233 359h1v2h-1zM234 361h1v2h-1zM235 363h1v2h-1zM236 365h1v2h-1zM237 367h1v2h-1zM238 369h1v3h-1zM239 372h1v2h-1zM240 374h1v2h-1zM241 376h1v3h-1zM242 379h1v2h-1zM243 381h1v3h-1zM244 384h1v1h-1zM245 385h1v2h-1zM246 387h1v2h-1zM247 389h1v2h-1zM248 391h1v2h-1zM249 393h1v1h-1zM250 394h1v1h-1zM251 395h1v1h-1zM252 396h1v1h-1zM253 397h1v1h-1zM254 398h1v1h-1zM255 399h1v1h-1zM256 400h1v1h-1zM257 401h1v1h-1zM258 402h1v1h-1zM259 403h1v1h-1zM260 404h1v1h-1zM261 405h1v1h-1zM262 406h1v1h-1zM263 407h1v1h-1zM264 408h1v1h-1zM265 409h1v1h-1zM266 408h1v1h-1zM267 407h1v1h-1zM268 406h1v1h-1zM269 405h1v1h-1zM270 405h1v1h-1zM271 405h1v1h-1zM272 405h1v1h-1zM273 405h1v1h-1zM274 405h1v1h-1zM275 405h1v1h-1zM276 405h1v1h-1zM277 405h1v1h-1zM278 405h1v1h-1zM279 404h1v1h-1zM280 403h1v1h-1zM281 403h1v1h-1zM282 402h1v1h-1zM283 402h1v1h-1zM284 400h1v2h-1zM285 399h1v1h-1zM286 397h1v2h-1zM287 395h1v2h-1zM288 393h1v2h-1zM289 390h1v3h-1zM290 388h1v2h-1zM291 386h1v2h-1zM292 384h1v2h-1zM293 383h1v1h-1zM294 381h1v2h-1zM295 380h1v1h-1zM296 378h1v2h-1zM297 377h1v1h-1zM298 376h1v1h-1zM299 375h1v1h-1zM300 374h1v1h-1zM301 373h1v1h-1zM302 372h1v1h-1zM303 371h1v1h-1zM304 370h1v1h-1zM305 369h1v1h-1zM306 369h1v1h-1zM307 370h1v2h-1zM308 372h1v1h-1zM309 373h1v1h-1zM310 374h1v3h-1zM311 377h1v2h-1zM312 379h1v2h-1zM313 381h1v2h-1zM314 383h1v1h-1zM315 384h1v2h-1zM316 386h1v1h-1zM317 387h1v1h-1zM318 388h1v1h-1zM319 389h1v2h-1zM320 391h1v2h-1zM321 393h1v2h-1zM322 395h1v2h-1zM323 397h1v2h-1zM324 399h1v1h-1zM325 400h1v1h-1zM326 401h1v2h-1zM327 403h1v1h-1zM328 404h1v1h-1zM329 404h1v1h-1zM330 404h1v1h-1zM331 404h1v1h-1zM332 404h1v1h-1zM333 404h1v1h-1zM334 404h1v1h-1zM335 403h1v1h-1zM336 403h1v1h-1zM337 403h1v1h-1zM338 403h1v1h-1zM339 402h1v1h-1zM340 401h1v1h-1zM341 399h1v2h-1zM342 398h1v1h-1zM343 397h1v1h-1zM344 394h1v3h-1zM345 392h1v2h-1zM346 389h1v3h-1zM347 387h1v2h-1zM348 384h1v3h-1zM349 380h1v4h-1zM350 377h1v3h-1zM351 373h1v4h-1zM352 369h1v4h-1zM353 367h1v2h-1zM354 364h1v3h-1zM355 362h1v2h-1zM356 359h1v3h-1zM357 356h1v3h-1zM358 353h1v3h-1zM359 349h1v4h-1zM360 346h1v3h-1zM361 342h1v4h-1zM362 338h1v4h-1zM363 335h1v3h-1zM364 333h1v2h-1zM365 330h1v3h-1zM366 328h1v2h-1zM367 325h1v3h-1zM368 322h1v3h-1zM369 320h1v2h-1zM370 318h1v2h-1zM371 316h1v2h-1zM372 314h1v2h-1zM373 312h1v2h-1zM374 310h1v2h-1zM375 307h1v3h-1zM376 304h1v3h-1zM377 300h1v4h-1zM378 297h1v3h-1zM379 294h1v3h-1zM380 290h1v4h-1zM381 289h1v1h-1zM382 288h1v1h-1zM383 286h1v2h-1zM384 285h1v1h-1zM385 284h1v1h-1zM386 283h1v1h-1zM387 282h1v1h-1zM388 282h1v1h-1zM389 281h1v1h-1zM390 281h1v1h-1zM391 280h1v1h-1zM392 280h1v1h-1zM393 280h1v1h-1zM394 280h1v1h-1zM395 280h1v1h-1zM396 280h1v1h-1zM397 280h1v1h-1zM398 280h1v1h-1zM399 281h1v1h-1zM400 281h1v1h-1zM401 281h1v1h-1zM402 281h1v1h-1zM403 281h1v1h-1zM404 281h1v1h-1zM405 281h1v1h-1zM406 281h1v1h-1zM407 282h1v1h-1zM408 282h1v1h-1zM409 282h1v1h-1zM410 282h1v1h-1zM411 283h1v1h-1zM412 283h1v1h-1zM413 283h1v1h-1zM414 284h1v1h-1zM415 284h1v1h-1zM416 285h1v1h-1zM417 285h1v1h-1zM418 285h1v1h-1zM419 286h1v1h-1zM420 285h1v1h-1zM421 284h1v1h-1zM422 283h1v1h-1zM423 283h1v1h-1zM424 282h1v1h-1zM425 281h1v1h-1zM426 280h1v1h-1zM427 280h1v1h-1zM428 279h1v1h-1zM429 279h1v1h-1zM430 278h1v1h-1zM431 278h1v1h-1zM432 277h1v1h-1zM433 277h1v1h-1zM434 277h1v1h-1zM435 277h1v1h-1zM436 277h1v1h-1zM437 278h1v1h-1zM438 278h1v1h-1zM439 278h1v1h-1zM440 278h1v1h-1zM441 278h1v1h-1zM442 278h1v1h-1zM443 278h1v1h-1zM444 278h1v1h-1zM445 278h1v1h-1zM446 277h1v1h-1zM447 276h1v1h-1zM448 275h1v1h-1zM449 274h1v1h-1zM450 273h1v1h-1zM451 273h1v1h-1zM452 272h1v1h-1zM453 272h1v1h-1zM454 271h1v1h-1zM455 271h1v1h-1zM456 270h1v1h-1zM457 270h1v2h-1zM458 272h1v1h-1zM459 273h1v1h-1zM460 274h1v1h-1zM461 275h1v1h-1zM462 276h1v1h-1zM463 277h1v2h-1zM464 279h1v1h-1zM465 280h1v1h-1zM466 281h1v1h-1zM467 282h1v1h-1zM468 283h1v1h-1zM469 284h1v1h-1zM470 284h1v1h-1zM471 285h1v1h-1zM472 285h1v1h-1zM473 286h1v1h-1zM474 286h1v1h-1zM475 287h1v1h-1zM476 288h1v1h-1zM477 289h1v1h-1zM478 290h1v1h-1zM479 291h1v1h-1zM480 292h1v1h-1zM481 293h1v1h-1zM482 293h1v1h-1zM483 294h1v1h-1zM484 294h1v1h-1zM485 294h1v1h-1zM486 295h1v1h-1zM487 294h1v1h-1zM488 294h1v1h-1zM489 294h1v1h-1zM490 293h1v1h-1zM491 293h1v1h-1zM492 293h1v1h-1zM493 292h1v1h-1zM494 291h1v1h-1zM495 290h1v1h-1zM496 290h1v1h-1zM497 289h1v1h-1zM498 288h1v1h-1zM499 288h1v1h-1zM500 287h1v1h-1zM501 287h1v1h-1zM502 287h1v1h-1zM503 287h1v1h-1zM504 287h1v1h-1zM505 287h1v1h-1zM506 286h1v1h-1zM507 286h1v1h-1zM508 286h1v1h-1zM509 286h1v1h-1zM510 285h1v2h-1zM511 282h1v3h-1zM512 280h1v2h-1zM513 277h1v3h-1zM514 275h1v2h-1zM515 272h1v3h-1zM516 270h1v2h-1zM517 268h1v2h-1zM518 267h1v1h-1zM519 265h1v2h-1zM520 263h1v2h-1zM521 261h1v2h-1zM522 260h1v1h-1zM523 258h1v2h-1zM524 257h1v1h-1zM525 256h1v1h-1zM526 255h1v1h-1zM527 254h1v1h-1zM528 253h1v1h-1zM529 252h1v1h-1zM530 251h1v1h-1zM531 250h1v1h-1zM532 249h1v1h-1zM533 247h1v2h-1zM534 246h1v1h-1zM535 245h1v1h-1zM536 244h1v1h-1zM537 242h1v2h-1zM538 241h1v1h-1zM539 240h1v1h-1zM540 239h1v1h-1zM541 238h1v1h-1zM542 236h1v2h-1zM543 235h1v1h-1zM544 234h1v1h-1zM545 233h1v1h-1zM546 231h1v2h-1zM547 230h1v1h-1zM548 229h1v1h-1zM549 228h1v1h-1zM550 227h1v1h-1zM551 226h1v1h-1zM552 225h1v1h-1zM553 224h1v1h-1zM554 223h1v1h-1zM555 222h1v1h-1zM556 219h1v3h-1zM557 217h1v2h-1zM558 215h1v2h-1zM559 213h1v2h-1zM560 212h1v1h-1zM561 211h1v1h-1zM562 210h1v1h-1zM563 210h1v1h-1zM564 210h1v1h-1zM565 209h1v1h-1zM566 210h1v1h-1zM567 210h1v1h-1zM568 211h1v1h-1zM569 211h1v1h-1zM570 212h1v1h-1zM571 212h1v1h-1zM572 212h1v1h-1zM573 213h1v1h-1zM574 213h1v1h-1zM575 213h1v1h-1zM576 213h1v1h-1zM577 213h1v1h-1zM578 213h1v1h-1zM579 213h1v1h-1zM580 212h1v1h-1zM581 212h1v1h-1zM582 212h1v1h-1zM583 212h1v1h-1zM584 212h1v1h-1zM585 212h1v1h-1zM586 211h1v1h-1zM587 211h1v1h-1zM588 211h1v1h-1zM589 211h1v1h-1zM590 210h1v1h-1zM591 210h1v1h-1zM592 210h1v1h-1zM593 210h1v1h-1zM594 211h1v1h-1zM595 211h1v1h-1zM596 211h1v1h-1zM597 212h1v1h-1zM598 212h1v1h-1zM599 212h1v1h-1zM600 213h1v1h-1zM601 213h1v1h-1zM602 213h1v1h-1zM603 214h1v1h-1zM604 214h1v1h-1zM605 214h1v1h-1zM606 214h1v1h-1zM607 215h1v1h-1zM608 215h1v1h-1zM609 215h1v1h-1zM610 216h1v1h-1zM611 216h1v1h-1zM612 216h1v1h-1zM613 216h1v1h-1zM614 217h1v1h-1zM615 217h1v1h-1zM616 217h1v1h-1zM617 217h1v1h-1zM618 218h1v1h-1zM619 218h1v1h-1zM620 218h1v1h-1zM621 219h1v1h-1zM622 219h1v1h-1zM623 219h1v1h-1zM624 218h1v1h-1zM625 218h1v1h-1zM626 218h1v1h-1zM627 218h1v1h-1zM628 217h1v1h-1zM629 217h1v1h-1zM630 216h1v1h-1zM631 215h1v1h-1zM632 214h1v1h-1zM633 213h1v1h-1zM634 212h1v1h-1zM635 211h1v1h-1zM636 210h1v1h-1zM637 209h1v1h-1zM638 208h1v1h-1zM639 207h1v1h-1zM640 206h1v1h-1zM641 205h1v1h-1zM642 205h1v1h-1zM643 204h1v1h-1zM644 203h1v1h-1zM645 202h1v1h-1zM646 202h1v1h-1zM647 202h1v1h-1zM648 202h1v1h-1zM649 202h1v1h-1zM650 203h1v1h-1zM651 203h1v1h-1zM652 203h1v1h-1zM653 204h1v1h-1zM654 204h1v1h-1zM655 204h1v1h-1zM656 205h1v1h-1zM657 205h1v1h-1zM658 206h1v1h-1zM659 206h1v1h-1zM660 207h1v2h-1zM661 209h1v2h-1zM662 211h1v2h-1zM663 213h1v2h-1zM664 215h1v3h-1zM665 218h1v2h-1zM666 220h1v3h-1zM667 223h1v2h-1zM668 225h1v2h-1zM669 227h1v3h-1zM670 230h1v2h-1zM671 232h1v2h-1zM672 234h1v3h-1zM673 237h1v2h-1zM674 239h1v2h-1zM675 241h1v2h-1zM676 243h1v2h-1zM677 245h1v2h-1zM678 247h1v2h-1zM679 249h1v2h-1zM680 251h1v1h-1zM681 252h1v2h-1zM682 254h1v2h-1zM683 256h1v2h-1zM684 258h1v2h-1zM685 260h1v2h-1zM686 262h1v2h-1zM687 264h1v1h-1zM688 265h1v1h-1zM689 266h1v2h-1zM690 268h1v1h-1zM691 269h1v1h-1zM692 270h1v2h-1zM693 272h1v2h-1zM694 274h1v1h-1zM695 275h1v2h-1zM696 277h1v2h-1zM697 279h1v2h-1zM698 281h1v2h-1zM699 283h1v2h-1zM700 285h1v3h-1zM701 288h1v2h-1zM702 290h1v3h-1zM703 293h1v2h-1zM704 295h1v3h-1zM705 298h1v3h-1zM706 301h1v3h-1zM707 304h1v3h-1zM708 307h1v3h-1zM709 310h1v2h-1zM710 312h1v3h-1zM711 315h1v3h-1zM712 318h1v2h-1zM713 320h1v2h-1zM714 322h1v2h-1zM715 324h1v2h-1zM716 326h1v1h-1zM717 327h1v2h-1zM718 329h1v1h-1zM719 330h1v1h-1zM720 331h1v2h-1zM721 333h1v1h-1zM722 334h1v1h-1zM723 335h1v2h-1zM724 337h1v1h-1zM725 338h1v1h-1zM726 339h1v2h-1zM727 341h1v2h-1zM728 343h1v2h-1zM729 345h1v3h-1zM730 348h1v2h-1zM731 350h1v2h-1zM732 352h1v3h-1zM733 355h1v4h-1zM734 359h1v3h-1zM735 362h1v3h-1zM736 365h1v3h-1zM737 368h1v3h-1zM738 371h1v4h-1zM739 375h1v3h-1zM740 378h1v3h-1zM741 381h1v3h-1zM742 384h1v4h-1zM743 388h1v4h-1zM744 392h1v4h-1zM745 396h1v4h-1zM746 400h1v4h-1zM747 404h1v5h-1zM748 409h1v4h-1zM749 413h1v5h-1zM750 418h1v4h-1zM751 422h1v5h-1zM752 427h1v4h-1zM753 431h1v4h-1zM754 435h1v5h-1zM755 440h1v4h-1zM756 444h1v4h-1zM757 448h1v4h-1zM758 452h1v3h-1zM759 455h1v2h-1zM760 457h1v3h-1zM761 460h1v2h-1zM762 462h1v2h-1zM763 464h1v2h-1zM764 466h1v2h-1zM765 468h1v2h-1zM766 470h1v1h-1zM767 471h1v1h-1zM768 472h1v2h-1zM769 474h1v1h-1zM770 475h1v1h-1zM771 476h1v2h-1zM772 478h1v1h-1zM773 479h1v1h-1zM774 480h1v1h-1zM775 481h1v2h-1zM776 483h1v1h-1zM777 484h1v1h-1zM778 485h1v2h-1zM779 487h1v1h-1zM780 488h1v1h-1zM781 489h1v1h-1zM782 490h1v2h-1zM783 492h1v1h-1zM784 493h1v2h-1zM785 495h1v1h-1zM786 496h1v1h-1zM787 497h1v1h-1zM788 498h1v1h-1zM789 498h1v1h-1zM790 499h1v1h-1zM791 500h1v1h-1zM792 500h1v1h-1zM793 500h1v1h-1zM794 501h1v1h-1zM795 501h1v1h-1zM796 501h1v1h-1zM797 502h1v1h-1zM798 503h1v1h-1zM799 504h1v1h-1zM800 505h1v1h-1zM801 506h1v1h-1zM802 507h1v1h-1zM803 507h1v1h-1zM804 508h1v1h-1zM805 508h1v1h-1zM806 509h1v1h-1zM807 509h1v1h-1zM808 509h1v1h-1zM809 509h1v1h-1zM810 509h1v1h-1zM811 509h1v1h-1zM812 509h1v1h-1zM813 508h1v1h-1zM814 508h1v1h-1zM815 507h1v1h-1zM816 506h1v1h-1zM817 505h1v1h-1zM818 504h1v1h-1zM819 503h1v1h-1zM820 503h1v1h-1zM821 502h1v1h-1zM822 502h1v1h-1zM823 501h1v1h-1zM824 501h1v1h-1zM825 500h1v1h-1zM826 500h1v1h-1zM827 499h1v1h-1zM828 499h1v1h-1zM829 498h1v2h-1zM830 497h1v1h-1zM831 495h1v2h-1zM832 494h1v1h-1zM833 493h1v1h-1zM834 491h1v2h-1zM835 490h1v1h-1zM836 488h1v2h-1zM837 487h1v1h-1zM838 485h1v2h-1zM839 484h1v1h-1zM840 482h1v2h-1zM841 481h1v1h-1zM842 479h1v2h-1zM843 477h1v2h-1zM844 475h1v2h-1zM845 474h1v1h-1zM846 472h1v2h-1zM847 470h1v2h-1zM848 468h1v2h-1zM849 466h1v2h-1zM850 464h1v2h-1zM851 462h1v2h-1zM852 459h1v3h-1zM853 457h1v2h-1zM854 455h1v2h-1zM855 452h1v3h-1zM856 450h1v2h-1zM857 448h1v2h-1zM858 445h1v3h-1zM859 443h1v2h-1zM860 441h1v2h-1zM861 439h1v2h-1zM862 437h1v2h-1zM863 435h1v2h-1zM864 433h1v2h-1zM865 430h1v3h-1zM866 427h1v3h-1zM867 425h1v2h-1zM868 422h1v3h-1zM869 420h1v2h-1zM870 418h1v2h-1zM871 416h1v2h-1zM872 414h1v2h-1zM873 412h1v2h-1zM874 410h1v2h-1zM875 409h1v1h-1zM876 408h1v1h-1zM877 407h1v1h-1zM878 406h1v1h-1zM879 405h1v1h-1zM880 404h1v1h-1zM881 403h1v1h-1zM882 402h1v1h-1zM883 401h1v1h-1zM884 400h1v1h-1zM885 399h1v1h-1zM886 398h1v1h-1zM887 398h1v1h-1zM888 397h1v1h-1zM889 397h1v1h-1zM890 396h1v1h-1zM891 395h1v1h-1zM892 394h1v2h-1zM893 393h1v1h-1zM894 391h1v2h-1zM895 390h1v1h-1zM896 387h1v3h-1zM897 384h1v3h-1zM898 381h1v3h-1zM899 378h1v3h-1zM900 377h1v1h-1zM901 376h1v1h-1zM902 375h1v1h-1zM903 374h1v1h-1zM904 373h1v1h-1zM905 372h1v1h-1zM906 371h1v1h-1zM907 370h1v1h-1zM908 369h1v1h-1zM909 368h1v1h-1zM910 367h1v1h-1zM911 367h1v1h-1zM912 365h1v2h-1zM913 364h1v1h-1zM914 362h1v2h-1zM915 361h1v1h-1zM916 359h1v2h-1zM917 358h1v1h-1zM918 357h1v1h-1zM919 356h1v1h-1zM920 354h1v2h-1zM921 353h1v1h-1zM922 352h1v1h-1zM923 351h1v1h-1zM924 351h1v1h-1zM925 351h1v1h-1zM926 351h1v1h-1zM927 352h1v1h-1zM928 352h1v1h-1zM929 352h1v1h-1zM930 351h1v1h-1zM931 350h1v1h-1zM932 349h1v1h-1zM933 348h1v1h-1zM934 347h1v1h-1zM935 346h1v1h-1zM936 345h1v1h-1zM937 344h1v1h-1zM938 343h1v1h-1zM939 342h1v1h-1zM940 341h1v1h-1zM941 340h1v1h-1zM942 340h1v1h-1zM943 339h1v1h-1zM944 339h1v1h-1zM945 338h1v1h-1zM946 337h1v1h-1zM947 337h1v1h-1zM948 336h1v1h-1zM949 336h1v1h-1zM950 335h1v1h-1zM951 335h1v1h-1zM952 334h1v1h-1zM953 334h1v1h-1zM954 333h1v1h-1zM955 333h1v1h-1zM956 332h1v1h-1zM957 332h1v1h-1zM958 331h1v1h-1zM959 331h1v1h-1zM960 330h1v1h-1zM961 329h1v1h-1zM962 329h1v1h-1zM963 328h1v1h-1zM964 327h1v1h-1zM965 326h1v1h-1zM966 327h1v1h-1zM967 328h1v1h-1zM968 329h1v1h-1zM969 330h1v2h-1zM970 332h1v1h-1zM971 333h1v1h-1zM972 334h1v1h-1zM973 335h1v2h-1zM974 337h1v1h-1zM975 338h1v2h-1zM976 340h1v1h-1zM977 341h1v2h-1zM978 343h1v2h-1zM979 345h1v2h-1zM980 347h1v1h-1zM981 348h1v2h-1zM982 350h1v2h-1zM983 352h1v2h-1zM984 354h1v2h-1zM985 356h1v2h-1zM986 358h1v2h-1zM987 360h1v2h-1zM988 362h1v2h-1zM989 364h1v1h-1zM990 365h1v1h-1zM991 366h1v2h-1zM992 368h1v1h-1zM993 369h1v1h-1zM994 370h1v1h-1zM995 371h1v1h-1zM996 372h1v1h-1zM997 373h1v1h-1zM998 373h1v1h-1zM999 374h1v1h-1zM1000 375h1v1h-1zM1001 375h1v1h-1zM1002 376h1v1h-1zM1003 377h1v1h-1zM1004 378h1v1h-1zM1005 379h1v1h-1zM1006 379h1v1h-1zM1007 380h1v1h-1zM1008 381h1v1h-1zM1009 382h1v1h-1zM1010 383h1v1h-1zM1011 384h1v1h-1zM1012 385h1v1h-1zM1013 386h1v1h-1zM1014 386h1v1h-1zM1015 387h1v1h-1zM1016 388h1v1h-1zM1017 389h1v1h-1zM1018 390h1v1h-1zM1019 391h1v1h-1zM1020 392h1v1h-1zM1021 393h1v1h-1zM1022 393h1v1h-1zM1023 392h1v1h-1zM1024 391h1v1h-1zM1025 391h1v1h-1zM1026 390h1v1h-1zM1027 389h1v1h-1zM1028 389h1v1h-1zM1029 388h1v1h-1zM1030 388h1v1h-1zM1031 387h1v1h-1zM1032 386h1v1h-1zM1033 385h1v1h-1zM1034 384h1v1h-1zM1035 383h1v1h-1zM1036 381h1v2h-1zM1037 380h1v1h-1zM1038 379h1v1h-1zM1039 377h1v2h-1zM1040 376h1v1h-1zM1041 375h1v1h-1zM1042 373h1v2h-1zM1043 371h1v2h-1zM1044 369h1v2h-1zM1045 368h1v1h-1zM1046 367h1v1h-1zM1047 366h1v1h-1zM1048 365h1v1h-1zM1049 365h1v1h-1zM1050 364h1v1h-1zM1051 363h1v1h-1zM1052 363h1v1h-1zM1053 363h1v1h-1zM1054 363h1v1h-1zM1055 364h1v1h-1zM1056 364h1v1h-1zM1057 364h1v1h-1zM1058 364h1v1h-1zM1059 365h1v1h-1zM1060 365h1v1h-1zM1061 365h1v1h-1zM1062 364h1v2h-1zM1063 363h1v1h-1zM1064 362h1v1h-1zM1065 361h1v1h-1zM1066 360h1v1h-1zM1067 358h1v2h-1zM1068 357h1v1h-1zM1069 356h1v1h-1zM1070 355h1v1h-1zM1071 354h1v1h-1zM1072 354h1v1h-1zM1073 353h1v1h-1zM1074 353h1v1h-1zM1075 352h1v1h-1zM1076 352h1v1h-1zM1077 351h1v1h-1zM1078 351h1v1h-1zM1079 350h1v1h-1zM1080 350h1v1h-1zM1081 349h1v1h-1zM1082 349h1v1h-1zM1083 348h1v1h-1zM1084 348h1v1h-1zM1085 347h1v1h-1zM1086 346h1v1h-1zM1087 345h1v1h-1zM1088 344h1v1h-1zM1089 344h1v1h-1zM1090 343h1v1h-1zM1091 342h1v1h-1zM1092 341h1v1h-1zM1093 340h1v1h-1zM1094 341h1v1h-1zM1095 342h1v1h-1zM1096 343h1v1h-1zM1097 344h1v1h-1zM1098 345h1v1h-1zM1099 346h1v1h-1zM1100 347h1v1h-1zM1101 347h1v1h-1zM1102 348h1v1h-1zM1103 348h1v1h-1zM1104 348h1v1h-1zM1105 348h1v1h-1zM1106 349h1v1h-1zM1107 349h1v1h-1zM1108 349h1v1h-1zM1109 350h1v1h-1zM1110 350h1v1h-1zM1111 351h1v1h-1zM1112 351h1v1h-1zM1113 352h1v1h-1zM1114 353h1v1h-1zM1115 354h1v1h-1zM1116 355h1v2h-1zM1117 357h1v1h-1zM1118 358h1v2h-1zM1119 360h1v3h-1zM1120 363h1v2h-1zM1121 365h1v2h-1zM1122 367h1v3h-1zM1123 370h1v3h-1zM1124 373h1v4h-1zM1125 377h1v3h-1zM1126 380h1v3h-1zM1127 383h1v3h-1zM1128 386h1v3h-1zM1129 389h1v1h-1z"/>
<path fill="#0000d2" d="M4 384h1v1h-1zM5 381h1v4h-1zM6 377h1v4h-1zM7 374h1v3h-1zM8 371h1v3h-1zM9 370h1v1h-1zM10 371h1v1h-1zM11 372h1v1h-1zM12 373h1v1h-1zM13 374h1v1h-1zM14 372h1v2h-1zM15 370h1v2h-1zM16 368h1v2h-1zM17 366h1v2h-1zM18 364h1v2h-1zM19 362h1v2h-1zM20 360h1v2h-1zM21 358h1v2h-1zM22 356h1v2h-1zM23 355h1v1h-1zM24 355h1v1h-1zM25 355h1v1h-1zM26 355h1v1h-1zM27 355h1v1h-1zM28 356h1v1h-1zM29 357h1v1h-1zM30 357h1v1h-1zM31 357h1v1h-1zM32 357h1v1h-1zM33 356h1v1h-1zM34 356h1v1h-1zM35 353h1v3h-1zM36 350h1v3h-1zM37 347h1v3h-1zM38 344h1v3h-1zM39 342h1v2h-1zM40 340h1v2h-1zM41 338h1v2h-1zM42 337h1v1h-1zM43 337h1v1h-1zM44 337h1v1h-1zM45 336h1v1h-1zM46 336h1v1h-1zM47 333h1v3h-1zM48 331h1v2h-1zM49 328h1v3h-1zM50 325h1v3h-1zM51 321h1v4h-1zM52 317h1v4h-1zM53 313h1v4h-1zM54 308h1v5h-1zM55 303h1v5h-1zM56 300h1v3h-1zM57 297h1v3h-1zM58 294h1v3h-1zM59 291h1v3h-1zM60 290h1v1h-1zM61 288h1v2h-1zM62 287h1v1h-1zM63 287h1v1h-1zM64 287h1v1h-1zM65 288h1v1h-1zM66 288h1v1h-1zM67 289h1v1h-1zM68 289h1v1h-1zM69 289h1v2h-1zM70 286h1v3h-1zM71 283h1v3h-1zM72 280h1v3h-1zM73 278h1v2h-1zM74 276h1v2h-1zM75 274h1v2h-1zM76 273h1v1h-1zM77 271h1v2h-1zM78 269h1v2h-1zM79 266h1v3h-1zM80 264h1v2h-1zM81 261h1v3h-1zM82 258h1v3h-1zM83 255h1v3h-1zM84 252h1v3h-1zM85 248h1v4h-1zM86 244h1v4h-1zM87 240h1v4h-1zM88 235h1v5h-1zM89 231h1v4h-1zM90 225h1v6h-1zM91 218h1v7h-1zM92 212h1v6h-1zM93 205h1v7h-1zM94 199h1v6h-1zM95 194h1v5h-1zM96 188h1v6h-1zM97 183h1v5h-1zM98 177h1v6h-1zM99 172h1v5h-1zM100 168h1v4h-1zM101 163h1v5h-1zM102 158h1v5h-1zM103 154h1v4h-1zM104 149h1v5h-1zM105 145h1v4h-1zM106 141h1v4h-1zM107 138h1v3h-1zM108 134h1v4h-1zM109 130h1v4h-1zM110 127h1v3h-1zM111 123h1v4h-1zM112 119h1v4h-1zM113 116h1v3h-1zM114 112h1v4h-1zM115 109h1v3h-1zM116 105h1v4h-1zM117 102h1v3h-1zM118 99h1v3h-1zM119 95h1v4h-1zM120 94h1v1h-1zM121 92h1v2h-1zM122 90h1v2h-1zM123 88h1v2h-1zM124 86h1v2h-1zM125 84h1v2h-1zM126 82h1v2h-1zM127 81h1v1h-1zM128 80h1v1h-1zM129 80h1v1h-1zM130 81h1v1h-1zM131 82h1v1h-1zM132 82h1v1h-1zM133 83h1v1h-1zM134 84h1v1h-1zM135 84h1v5h-1zM136 89h1v5h-1zM137 94h1v5h-1zM138 99h1v5h-1zM139 104h1v5h-1zM140 109h1v7h-1zM141 116h1v7h-1zM142 123h1v7h-1zM143 130h1v8h-1zM144 138h1v8h-1zM145 146h1v8h-1zM146 154h1v9h-1zM147 163h1v9h-1zM148 172h1v9h-1zM149 181h1v10h-1zM150 191h1v8h-1zM151 199h1v9h-1zM152 208h1v9h-1zM153 217h1v10h-1zM154 227h1v11h-1zM155 238h1v11h-1zM156 249h1v11h-1zM157 260h1v11h-1zM158 271h1v11h-1zM159 282h1v12h-1zM160 294h1v10h-1zM161 304h1v8h-1zM162 312h1v7h-1zM163 319h1v6h-1zM164 325h1v5h-1zM165 330h1v5h-1zM166 335h1v5h-1zM167 340h1v5h-1zM168 345h1v3h-1zM169 348h1v4h-1zM170 352h1v3h-1zM171 355h1v3h-1zM172 358h1v2h-1zM173 360h1v1h-1zM174 361h1v2h-1zM175 363h1v2h-1zM176 365h1v1h-1zM177 365h1v1h-1zM178 365h1v1h-1zM179 364h1v1h-1zM180 363h1v1h-1zM181 363h1v1h-1zM182 361h1v2h-1zM183 360h1v1h-1zM184 359h1v1h-1zM185 357h1v2h-1zM186 356h1v1h-1zM187 355h1v1h-1zM188 354h1v1h-1zM189 354h1v1h-1zM190 353h1v1h-1zM191 352h1v1h-1zM192 352h1v1h-1zM193 352h1v1h-1zM194 352h1v1h-1zM195 352h1v1h-1zM196 350h1v2h-1zM197 348h1v2h-1zM198 347h1v1h-1zM199 345h1v2h-1zM200 343h1v2h-1zM201 341h1v2h-1zM202 339h1v2h-1zM203 335h1v4h-1zM204 332h1v3h-1zM205 329h1v3h-1zM206 327h1v2h-1zM207 326h1v1h-1zM208 324h1v2h-1zM209 323h1v1h-1zM210 323h1v1h-1zM211 324h1v1h-1zM212 325h1v2h-1zM213 327h1v1h-1zM214 328h1v1h-1zM215 329h1v1h-1zM216 330h1v1h-1zM217 331h1v1h-1zM218 332h1v1h-1zM219 333h1v1h-1zM220 334h1v1h-1zM221 334h1v1h-1zM222 335h1v1h-1zM223 336h1v1h-1zM224 337h1v1h-1zM225 337h1v3h-1zM226 340h1v4h-1zM227 344h1v6h-1zM228 350h1v8h-1zM229 358h1v6h-1zM230 364h1v7h-1zM231 371h1v6h-1zM232 377h1v6h-1zM233 383h1v6h-1zM234 389h1v6h-1zM235 395h1v6h-1zM236 401h1v5h-1zM237 406h1v6h-1zM238 412h1v5h-1zM239 417h1v4h-1zM240 421h1v4h-1zM241 425h1v3h-1zM242 428h1v4h-1zM243 432h1v3h-1zM244 435h1v3h-1zM245 438h1v3h-1zM246 441h1v3h-1zM247 444h1v3h-1zM248 447h1v3h-1zM249 450h1v3h-1zM250 453h1v2h-1zM251 455h1v3h-1zM252 458h1v2h-1zM253 458h1v3h-1zM254 455h1v3h-1zM255 452h1v3h-1zM256 447h1v5h-1zM257 442h1v5h-1zM258 437h1v5h-1zM259 433h1v4h-1zM260 429h1v4h-1zM261 424h1v5h-1zM262 420h1v4h-1zM263 414h1v6h-1zM264 409h1v5h-1zM265 404h1v5h-1zM266 399h1v5h-1zM267 395h1v4h-1zM268 390h1v5h-1zM269 386h1v4h-1zM270 382h1v4h-1zM271 378h1v4h-1zM272 374h1v4h-1zM273 370h1v4h-1zM274 366h1v4h-1zM275 363h1v3h-1zM276 360h1v3h-1zM277 357h1v3h-1zM278 354h1v3h-1zM279 352h1v2h-1zM280 349h1v3h-1zM281 348h1v1h-1zM282 347h1v1h-1zM283 348h1v2h-1zM284 350h1v1h-1zM285 351h1v1h-1zM286 352h1v2h-1zM287 354h1v1h-1zM288 355h1v1h-1zM289 356h1v1h-1zM290 357h1v1h-1zM291 358h1v1h-1zM292 359h1v1h-1zM293 360h1v1h-1zM294 361h1v3h-1zM295 364h1v2h-1zM296 366h1v3h-1zM297 369h1v2h-1zM298 371h1v2h-1zM299 373h1v1h-1zM300 374h1v2h-1zM301 376h1v1h-1zM302 377h1v1h-1zM303 378h1v1h-1zM304 379h1v1h-1zM305 380h1v3h-1zM306 383h1v4h-1zM307 387h1v4h-1zM308 391h1v4h-1zM309 395h1v4h-1zM310 399h1v3h-1zM311 402h1v4h-1zM312 406h1v3h-1zM313 409h1v2h-1zM314 411h1v1h-1zM315 412h1v2h-1zM316 414h1v1h-1zM317 415h1v2h-1zM318 417h1v2h-1zM319 419h1v2h-1zM320 421h1v2h-1zM321 423h1v2h-1zM322 425h1v2h-1zM323 427h1v2h-1zM324 429h1v2h-1zM325 431h1v2h-1zM326 433h1v1h-1zM327 433h1v1h-1zM328 434h1v1h-1zM329 433h1v2h-1zM330 431h1v2h-1zM331 429h1v2h-1zM332 426h1v3h-1zM333 422h1v4h-1zM334 419h1v3h-1zM335 415h1v4h-1zM336 411h1v4h-1zM337 407h1v4h-1zM338 402h1v5h-1zM339 397h1v5h-1zM340 392h1v5h-1zM341 387h1v5h-1zM342 382h1v5h-1zM343 376h1v6h-1zM344 371h1v5h-1zM345 366h1v5h-1zM346 361h1v5h-1zM347 353h1v8h-1zM348 343h1v10h-1zM349 333h1v10h-1zM350 325h1v8h-1zM351 317h1v8h-1zM352 309h1v8h-1zM353 301h1v8h-1zM354 294h1v7h-1zM355 287h1v7h-1zM356 280h1v7h-1zM357 276h1v4h-1zM358 273h1v3h-1zM359 270h1v3h-1zM360 267h1v3h-1zM361 264h1v3h-1zM362 262h1v2h-1zM363 259h1v3h-1zM364 257h1v2h-1zM365 255h1v2h-1zM366 254h1v1h-1zM367 252h1v2h-1zM368 251h1v1h-1zM369 250h1v1h-1zM370 251h1v1h-1zM371 252h1v2h-1zM372 254h1v2h-1zM373 256h1v2h-1zM374 258h1v3h-1zM375 261h1v3h-1zM376 264h1v2h-1zM377 266h1v3h-1zM378 269h1v3h-1zM379 272h1v3h-1zM380 275h1v3h-1zM381 278h1v2h-1zM382 280h1v2h-1zM383 282h1v2h-1zM384 284h1v2h-1zM385 286h1v2h-1zM386 288h1v2h-1zM387 290h1v3h-1zM388 293h1v2h-1zM389 295h1v2h-1zM390 297h1v3h-1zM391 300h1v2h-1zM392 302h1v2h-1zM393 304h1v2h-1zM394 306h1v2h-1zM395 308h1v2h-1zM396 310h1v1h-1zM397 311h1v1h-1zM398 311h1v2h-1zM399 308h1v3h-1zM400 306h1v2h-1zM401 304h1v2h-1zM402 301h1v3h-1zM403 299h1v2h-1zM404 296h1v3h-1zM405 293h1v3h-1zM406 291h1v2h-1zM407 288h1v3h-1zM408 285h1v3h-1zM409 284h1v1h-1zM410 283h1v1h-1zM411 282h1v1h-1zM412 280h1v2h-1zM413 279h1v1h-1zM414 278h1v1h-1zM415 276h1v2h-1zM416 274h1v2h-1zM417 273h1v1h-1zM418 271h1v2h-1zM419 270h1v1h-1zM420 266h1v4h-1zM421 262h1v4h-1zM422 259h1v3h-1zM423 256h1v3h-1zM424 253h1v3h-1zM425 251h1v2h-1zM426 250h1v1h-1zM427 250h1v1h-1zM428 251h1v1h-1zM429 252h1v1h-1zM430 252h1v1h-1zM431 253h1v3h-1zM432 256h1v2h-1zM433 258h1v2h-1zM434 260h1v2h-1zM435 262h1v3h-1zM436 265h1v3h-1zM437 268h1v3h-1zM438 271h1v2h-1zM439 273h1v1h-1zM440 274h1v2h-1zM441 276h1v1h-1zM442 277h1v1h-1zM443 278h1v1h-1zM444 279h1v1h-1zM445 280h1v1h-1zM446 281h1v1h-1zM447 281h1v1h-1zM448 282h1v1h-1zM449 283h1v2h-1zM450 285h1v2h-1zM451 287h1v2h-1zM452 289h1v1h-1zM453 290h1v1h-1zM454 289h1v1h-1zM455 289h1v1h-1zM456 288h1v1h-1zM457 288h1v1h-1zM458 288h1v1h-1zM459 289h1v1h-1zM460 290h1v1h-1zM461 290h1v1h-1zM462 291h1v1h-1zM463 292h1v1h-1zM464 292h1v1h-1zM465 292h1v1h-1zM466 292h1v1h-1zM467 292h1v1h-1zM468 292h1v1h-1zM469 292h1v1h-1zM470 292h1v1h-1zM471 291h1v1h-1zM472 290h1v1h-1zM473 290h1v1h-1zM474 290h1v1h-1zM475 290h1v1h-1zM476 291h1v1h-1zM477 292h1v1h-1zM478 292h1v1h-1zM479 293h1v2h-1zM480 295h1v1h-1zM481 296h1v2h-1zM482 298h1v1h-1zM483 298h1v1h-1zM484 298h1v1h-1zM485 298h1v1h-1zM486 298h1v1h-1zM487 297h1v1h-1zM488 295h1v2h-1zM489 294h1v1h-1zM490 293h1v1h-1zM491 292h1v1h-1zM492 291h1v1h-1zM493 291h1v1h-1zM494 290h1v1h-1zM495 289h1v1h-1zM496 289h1v1h-1zM497 288h1v1h-1zM498 288h1v1h-1zM499 287h1v1h-1zM500 287h1v1h-1zM501 286h1v1h-1zM502 286h1v1h-1zM503 285h1v1h-1zM504 284h1v2h-1zM505 283h1v1h-1zM506 281h1v2h-1zM507 280h1v1h-1zM508 278h1v2h-1zM509 274h1v4h-1zM510 270h1v4h-1zM511 265h1v5h-1zM512 261h1v4h-1zM513 256h1v5h-1zM514 253h1v3h-1zM515 250h1v3h-1zM516 247h1v3h-1zM517 244h1v3h-1zM518 241h1v3h-1zM519 238h1v3h-1zM520 236h1v2h-1zM521 234h1v2h-1zM522 231h1v3h-1zM523 229h1v2h-1zM524 227h1v2h-1zM525 224h1v3h-1zM526 223h1v1h-1zM527 221h1v2h-1zM528 219h1v2h-1zM529 218h1v1h-1zM530 216h1v2h-1zM531 214h1v2h-1zM532 213h1v1h-1zM533 213h1v1h-1zM534 213h1v1h-1zM535 213h1v1h-1zM536 213h1v1h-1zM537 212h1v1h-1zM538 212h1v1h-1zM539 213h1v1h-1zM540 214h1v1h-1zM541 215h1v1h-1zM542 216h1v1h-1zM543 217h1v1h-1zM544 217h1v1h-1zM545 218h1v1h-1zM546 218h1v1h-1zM547 218h1v1h-1zM548 219h1v1h-1zM549 219h1v1h-1zM550 219h1v1h-1zM551 219h1v1h-1zM552 219h1v1h-1zM553 219h1v1h-1zM554 219h1v1h-1zM555 219h1v1h-1zM556 218h1v2h-1zM557 216h1v2h-1zM558 214h1v2h-1zM559 211h1v3h-1zM560 210h1v1h-1zM561 210h1v1h-1zM562 209h1v1h-1zM563 208h1v1h-1zM564 207h1v1h-1zM565 206h1v2h-1zM566 208h1v1h-1zM567 209h1v1h-1zM568 210h1v1h-1zM569 211h1v1h-1zM570 211h1v1h-1zM571 210h1v1h-1zM572 210h1v1h-1zM573 210h1v1h-1zM574 209h1v1h-1zM575 209h1v1h-1zM576 209h1v1h-1zM577 209h1v1h-1zM578 208h1v1h-1zM579 208h1v1h-1zM580 208h1v1h-1zM581 208h1v1h-1zM582 209h1v1h-1zM583 209h1v1h-1zM584 210h1v1h-1zM585 210h1v1h-1zM586 211h1v1h-1zM587 211h1v1h-1zM588 211h1v1h-1zM589 211h1v1h-1zM590 211h1v1h-1zM591 211h1v1h-1zM592 211h1v1h-1zM593 211h1v1h-1zM594 211h1v1h-1zM595 211h1v1h-1zM596 212h1v1h-1zM597 212h1v1h-1zM598 212h1v1h-1zM599 213h1v1h-1zM600 213h1v2h-1zM601 215h1v2h-1zM602 217h1v1h-1zM603 218h1v2h-1zM604 220h1v1h-1zM605 221h1v1h-1zM606 222h1v1h-1zM607 222h1v1h-1zM608 223h1v1h-1zM609 224h1v1h-1zM610 224h1v1h-1zM611 223h1v1h-1zM612 222h1v1h-1zM613 221h1v1h-1zM614 221h1v1h-1zM615 221h1v1h-1zM616 222h1v1h-1zM617 222h1v1h-1zM618 223h1v1h-1zM619 223h1v1h-1zM620 223h1v1h-1zM621 224h1v1h-1zM622 224h1v1h-1zM623 224h1v1h-1zM624 224h1v1h-1zM625 225h1v1h-1zM626 223h1v2h-1zM627 221h1v2h-1zM628 219h1v2h-1zM629 216h1v3h-1zM630 213h1v3h-1zM631 210h1v3h-1zM632 207h1v3h-1zM633 205h1v2h-1zM634 202h1v3h-1zM635 200h1v2h-1zM636 198h1v2h-1zM637 195h1v3h-1zM638 193h1v2h-1zM639 191h1v2h-1zM640 189h1v2h-1zM641 188h1v1h-1zM642 186h1v2h-1zM643 185h1v1h-1zM644 184h1v1h-1zM645 183h1v1h-1zM646 182h1v1h-1zM647 182h1v1h-1zM648 181h1v1h-1zM649 181h1v1h-1zM650 182h1v1h-1zM651 183h1v1h-1zM652 184h1v1h-1zM653 185h1v2h-1zM654 187h1v2h-1zM655 189h1v2h-1zM656 191h1v2h-1zM657 193h1v3h-1zM658 196h1v4h-1zM659 200h1v4h-1zM660 204h1v4h-1zM661 208h1v7h-1zM662 215h1v8h-1zM663 223h1v7h-1zM664 230h1v7h-1zM665 237h1v6h-1zM666 243h1v8h-1zM667 251h1v7h-1zM668 258h1v8h-1zM669 266h1v6h-1zM670 272h1v7h-1zM671 279h1v7h-1zM672 286h1v6h-1zM673 292h1v6h-1zM674 298h1v6h-1zM675 304h1v3h-1zM676 307h1v2h-1zM677 309h1v3h-1zM678 312h1v2h-1zM679 314h1v3h-1zM680 317h1v2h-1zM681 319h1v3h-1zM682 322h1v2h-1zM683 324h1v3h-1zM684 327h1v2h-1zM685 329h1v1h-1zM686 328h1v2h-1zM687 326h1v2h-1zM688 324h1v2h-1zM689 322h1v2h-1zM690 319h1v3h-1zM691 314h1v5h-1zM692 310h1v4h-1zM693 305h1v5h-1zM694 301h1v4h-1zM695 297h1v4h-1zM696 293h1v4h-1zM697 289h1v4h-1zM698 287h1v2h-1zM699 285h1v2h-1zM700 282h1v3h-1zM701 281h1v1h-1zM702 280h1v1h-1zM703 280h1v1h-1zM704 280h1v1h-1zM705 281h1v4h-1zM706 285h1v4h-1zM707 289h1v4h-1zM708 293h1v4h-1zM709 297h1v3h-1zM710 300h1v4h-1zM711 304h1v4h-1zM712 308h1v5h-1zM713 313h1v5h-1zM714 318h1v5h-1zM715 323h1v4h-1zM716 327h1v6h-1zM717 333h1v6h-1zM718 339h1v6h-1zM719 345h1v6h-1zM720 351h1v6h-1zM721 357h1v6h-1zM722 363h1v7h-1zM723 370h1v6h-1zM724 376h1v7h-1zM725 383h1v6h-1zM726 389h1v7h-1zM727 396h1v6h-1zM728 402h1v7h-1zM729 409h1v6h-1zM730 415h1v6h-1zM731 421h1v5h-1zM732 426h1v3h-1zM733 429h1v3h-1zM734 432h1v4h-1zM735 436h1v3h-1zM736 439h1v2h-1zM737 441h1v3h-1zM738 444h1v3h-1zM739 447h1v2h-1zM740 449h1v3h-1zM741 452h1v2h-1zM742 454h1v3h-1zM743 457h1v2h-1zM744 459h1v3h-1zM745 462h1v2h-1zM746 464h1v3h-1zM747 467h1v2h-1zM748 469h1v3h-1zM749 472h1v3h-1zM750 475h1v3h-1zM751 478h1v3h-1zM752 481h1v3h-1zM753 484h1v3h-1zM754 487h1v2h-1zM755 489h1v2h-1zM756 491h1v1h-1zM757 492h1v1h-1zM758 493h1v1h-1zM759 494h1v1h-1zM760 495h1v1h-1zM761 495h1v1h-1zM762 495h1v1h-1zM763 495h1v1h-1zM764 495h1v1h-1zM765 495h1v1h-1zM766 494h1v1h-1zM767 494h1v1h-1zM768 494h1v1h-1zM769 494h1v1h-1zM770 494h1v1h-1zM771 494h1v1h-1zM772 495h1v1h-1zM773 495h1v1h-1zM774 496h1v1h-1zM775 496h1v1h-1zM776 497h1v1h-1zM777 498h1v1h-1zM778 498h1v1h-1zM779 497h1v1h-1zM780 497h1v1h-1zM781 496h1v1h-1zM782 496h1v1h-1zM783 497h1v1h-1zM784 497h1v1h-1zM785 498h1v1h-1zM786 499h1v1h-1zM787 500h1v2h-1zM788 502h1v1h-1zM789 503h1v1h-1zM790 504h1v1h-1zM791 504h1v1h-1zM792 505h1v1h-1zM793 506h1v1h-1zM794 507h1v1h-1zM795 507h1v1h-1zM796 508h1v1h-1zM797 509h1v2h-1zM798 511h1v2h-1zM799 513h1v2h-1zM800 515h1v1h-1zM801 516h1v1h-1zM802 517h1v1h-1zM803 518h1v1h-1zM804 519h1v1h-1zM805 520h1v1h-1zM806 520h1v1h-1zM807 521h1v1h-1zM808 522h1v1h-1zM809 522h1v1h-1zM810 521h1v1h-1zM811 520h1v1h-1zM812 520h1v1h-1zM813 518h1v2h-1zM814 516h1v2h-1zM815 514h1v2h-1zM816 511h1v3h-1zM817 508h1v3h-1zM818 505h1v3h-1zM819 503h1v2h-1zM820 501h1v2h-1zM821 499h1v2h-1zM822 497h1v2h-1zM823 495h1v2h-1zM824 493h1v2h-1zM825 491h1v2h-1zM826 488h1v3h-1zM827 485h1v3h-1zM828 482h1v3h-1zM829 479h1v3h-1zM830 475h1v4h-1zM831 472h1v3h-1zM832 468h1v4h-1zM833 465h1v3h-1zM834 461h1v4h-1zM835 458h1v3h-1zM836 455h1v3h-1zM837 452h1v3h-1zM838 449h1v3h-1zM839 447h1v2h-1zM840 444h1v3h-1zM841 442h1v2h-1zM842 441h1v1h-1zM843 441h1v1h-1zM844 440h1v1h-1zM845 440h1v1h-1zM846 438h1v2h-1zM847 437h1v1h-1zM848 435h1v2h-1zM849 433h1v2h-1zM850 431h1v2h-1zM851 429h1v2h-1zM852 427h1v2h-1zM853 426h1v1h-1zM854 425h1v1h-1zM855 423h1v2h-1zM856 422h1v1h-1zM857 422h1v1h-1zM858 421h1v1h-1zM859 420h1v1h-1zM860 418h1v2h-1zM861 417h1v1h-1zM862 416h1v1h-1zM863 414h1v2h-1zM864 413h1v1h-1zM865 412h1v1h-1zM866 408h1v4h-1zM867 404h1v4h-1zM868 400h1v4h-1zM869 396h1v4h-1zM870 393h1v3h-1zM871 390h1v3h-1zM872 386h1v4h-1zM873 383h1v3h-1zM874 382h1v1h-1zM875 381h1v1h-1zM876 380h1v1h-1zM877 379h1v1h-1zM878 378h1v1h-1zM879 378h1v1h-1zM880 378h1v1h-1zM881 378h1v1h-1zM882 378h1v1h-1zM883 378h1v1h-1zM884 378h1v1h-1zM885 378h1v1h-1zM886 378h1v1h-1zM887 377h1v1h-1zM888 376h1v1h-1zM889 375h1v1h-1zM890 374h1v1h-1zM891 374h1v1h-1zM892 373h1v1h-1zM893 373h1v1h-1zM894 373h1v1h-1zM895 373h1v1h-1zM896 373h1v1h-1zM897 372h1v1h-1zM898 372h1v1h-1zM899 371h1v1h-1zM900 371h1v1h-1zM901 370h1v1h-1zM902 370h1v1h-1zM903 369h1v1h-1zM904 367h1v2h-1zM905 365h1v2h-1zM906 363h1v2h-1zM907 360h1v3h-1zM908 358h1v2h-1zM909 356h1v2h-1zM910 353h1v3h-1zM911 350h1v3h-1zM912 348h1v2h-1zM913 345h1v3h-1zM914 343h1v2h-1zM915 340h1v3h-1zM916 338h1v2h-1zM917 335h1v3h-1zM918 334h1v1h-1zM919 332h1v2h-1zM920 331h1v1h-1zM921 330h1v1h-1zM922 330h1v1h-1zM923 330h1v1h-1zM924 331h1v1h-1zM925 331h1v1h-1zM926 332h1v1h-1zM927 332h1v1h-1zM928 333h1v1h-1zM929 334h1v1h-1zM930 333h1v1h-1zM931 332h1v1h-1zM932 331h1v1h-1zM933 330h1v1h-1zM934 329h1v1h-1zM935 330h1v1h-1zM936 330h1v1h-1zM937 331h1v1h-1zM938 332h1v1h-1zM939 333h1v1h-1zM940 334h1v2h-1zM941 336h1v1h-1zM942 336h1v1h-1zM943 336h1v1h-1zM944 336h1v1h-1zM945 337h1v1h-1zM946 337h1v1h-1zM947 337h1v1h-1zM948 337h1v1h-1zM949 337h1v1h-1zM950 336h1v1h-1zM951 336h1v1h-1zM952 336h1v1h-1zM953 335h1v1h-1zM954 334h1v1h-1zM955 334h1v1h-1zM956 333h1v1h-1zM957 332h1v1h-1zM958 331h1v1h-1zM959 330h1v1h-1zM960 329h1v1h-1zM961 328h1v1h-1zM962 326h1v2h-1zM963 324h1v2h-1zM964 322h1v2h-1zM965 321h1v1h-1zM966 320h1v2h-1zM967 322h1v2h-1zM968 324h1v2h-1zM969 326h1v2h-1zM970 328h1v2h-1zM971 330h1v3h-1zM972 333h1v3h-1zM973 336h1v2h-1zM974 338h1v3h-1zM975 341h1v3h-1zM976 344h1v3h-1zM977 347h1v4h-1zM978 351h1v4h-1zM979 355h1v4h-1zM980 359h1v4h-1zM981 363h1v4h-1zM982 367h1v5h-1zM983 372h1v4h-1zM984 376h1v5h-1zM985 381h1v5h-1zM986 386h1v5h-1zM987 391h1v5h-1zM988 396h1v4h-1zM989 400h1v5h-1zM990 405h1v4h-1zM991 409h1v3h-1zM992 412h1v4h-1zM993 416h1v2h-1zM994 418h1v1h-1zM995 419h1v1h-1zM996 419h1v1h-1zM997 419h1v1h-1zM998 418h1v1h-1zM999 417h1v1h-1zM1000 416h1v1h-1zM1001 415h1v1h-1zM1002 413h1v2h-1zM1003 412h1v1h-1zM1004 410h1v2h-1zM1005 408h1v2h-1zM1006 406h1v2h-1zM1007 404h1v2h-1zM1008 402h1v2h-1zM1009 400h1v2h-1zM1010 398h1v2h-1zM1011 396h1v2h-1zM1012 393h1v3h-1zM1013 390h1v3h-1zM1014 386h1v4h-1zM1015 383h1v3h-1zM1016 380h1v3h-1zM1017 378h1v2h-1zM1018 375h1v3h-1zM1019 372h1v3h-1zM1020 370h1v2h-1zM1021 367h1v3h-1zM1022 365h1v2h-1zM1023 363h1v2h-1zM1024 362h1v1h-1zM1025 361h1v1h-1zM1026 361h1v1h-1zM1027 361h1v1h-1zM1028 362h1v1h-1zM1029 362h1v1h-1zM1030 362h1v1h-1zM1031 361h1v1h-1zM1032 360h1v1h-1zM1033 359h1v1h-1zM1034 358h1v1h-1zM1035 358h1v1h-1zM1036 358h1v1h-1zM1037 358h1v1h-1zM1038 358h1v1h-1zM1039 357h1v1h-1zM1040 357h1v1h-1zM1041 356h1v1h-1zM1042 356h1v1h-1zM1043 357h1v1h-1zM1044 357h1v1h-1zM1045 357h1v1h-1zM1046 358h1v1h-1zM1047 359h1v1h-1zM1048 360h1v1h-1zM1049 361h1v1h-1zM1050 361h1v1h-1zM1051 362h1v1h-1zM1052 363h1v1h-1zM1053 364h1v1h-1zM1054 365h1v1h-1zM1055 366h1v1h-1zM1056 367h1v1h-1zM1057 368h1v1h-1zM1058 369h1v1h-1zM1059 370h1v1h-1zM1060 371h1v1h-1zM1061 372h1v1h-1zM1062 370h1v3h-1zM1063 368h1v2h-1zM1064 365h1v3h-1zM1065 362h1v3h-1zM1066 359h1v3h-1zM1067 357h1v2h-1zM1068 356h1v1h-1zM1069 354h1v2h-1zM1070 353h1v1h-1zM1071 352h1v1h-1zM1072 350h1v2h-1zM1073 349h1v1h-1zM1074 347h1v2h-1zM1075 345h1v2h-1zM1076 344h1v1h-1zM1077 342h1v2h-1zM1078 340h1v2h-1zM1079 338h1v2h-1zM1080 337h1v1h-1zM1081 335h1v2h-1zM1082 333h1v2h-1zM1083 330h1v3h-1zM1084 327h1v3h-1zM1085 324h1v3h-1zM1086 321h1v3h-1zM1087 319h1v2h-1zM1088 316h1v3h-1zM1089 315h1v1h-1zM1090 314h1v1h-1zM1091 314h1v1h-1zM1092 315h1v1h-1zM1093 316h1v2h-1zM1094 318h1v3h-1zM1095 321h1v4h-1zM1096 325h1v4h-1zM1097 329h1v4h-1zM1098 333h1v4h-1zM1099 337h1v4h-1zM1100 341h1v3h-1zM1101 344h1v4h-1zM1102 348h1v3h-1zM1103 351h1v3h-1zM1104 354h1v1h-1zM1105 355h1v2h-1zM1106 357h1v2h-1zM1107 359h1v2h-1zM1108 361h1v4h-1zM1109 365h1v3h-1zM1110 368h1v4h-1zM1111 372h1v4h-1zM1112 376h1v5h-1zM1113 381h1v4h-1zM1114 385h1v5h-1zM1115 390h1v5h-1zM1116 395h1v5h-1zM1117 400h1v5h-1zM1118 405h1v4h-1zM1119 409h1v4h-1zM1120 413h1v3h-1zM1121 416h1v3h-1zM1122 419h1v2h-1zM1123 421h1v3h-1zM1124 424h1v2h-1zM1125 426h1v3h-1zM1126 429h1v2h-1zM1127 431h1v3h-1zM1128 434h1v1h-1z"/>
</g>
<g clip-path="url(#c2)" shape-rendering="crispEdges">
<path fill="#c0c0c0" d="M9 598h1v22h-1zM13 598h1v22h-1zM17 598h1v22h-1zM21 598h1v22h-1zM25 599h1v21h-1zM29 602h1v18h-1zM33 603h1v17h-1zM37 600h1v20h-1zM41 595h1v25h-1zM45 596h1v24h-1zM49 596h1v24h-1zM53 594h1v26h-1zM57 593h1v27h-1zM61 593h1v27h-1zM65 594h1v26h-1zM69 594h1v26h-1zM73 594h1v26h-1zM77 593h1v27h-1zM81 591h1v29h-1zM85 589h1v31h-1zM89 586h1v34h-1zM93 582h1v38h-1zM97 577h1v43h-1zM101 575h1v45h-1zM105 574h1v46h-1zM109 574h1v46h-1zM113 574h1v46h-1zM117 573h1v47h-1zM121 572h1v48h-1zM125 571h1v49h-1zM129 571h1v49h-1zM133 574h1v46h-1zM137 582h1v38h-1zM141 592h1v28h-1zM145 601h1v19h-1zM149 611h1v9h-1zM153 618h1v2h-1zM157 619h1v11h-1zM161 619h1v17h-1zM165 619h1v21h-1zM169 619h1v23h-1zM173 619h1v23h-1zM177 619h1v25h-1zM181 619h1v27h-1zM185 619h1v26h-1zM189 619h1v25h-1zM193 619h1v24h-1zM197 619h1v22h-1zM201 619h1v19h-1zM205 619h1v17h-1zM209 619h1v15h-1zM213 619h1v17h-1zM217 619h1v18h-1zM221 619h1v19h-1zM225 619h1v21h-1zM229 619h1v23h-1zM233 619h1v26h-1zM237 619h1v30h-1zM241 619h1v33h-1zM245 619h1v33h-1zM249 619h1v33h-1zM253 619h1v29h-1zM257 619h1v22h-1zM261 619h1v18h-1zM265 619h1v14h-1zM269 619h1v10h-1zM273 619h1v10h-1zM277 619h1v8h-1zM281 619h1v5h-1zM285 619h1v4h-1zM289 619h1v4h-1zM293 619h1v5h-1zM297 619h1v6h-1zM301 619h1v6h-1zM305 619h1v6h-1zM309 619h1v11h-1zM313 619h1v13h-1zM317 619h1v13h-1zM321 619h1v13h-1zM325 619h1v14h-1zM329 619h1v13h-1zM333 619h1v9h-1zM337 619h1v4h-1zM341 619h1v1h-1zM345 615h1v5h-1zM349 607h1v13h-1zM353 601h1v19h-1zM357 598h1v22h-1zM361 596h1v24h-1zM365 595h1v25h-1zM369 596h1v24h-1zM373 600h1v20h-1zM377 602h1v18h-1zM381 603h1v17h-1zM385 604h1v16h-1zM389 605h1v15h-1zM393 607h1v13h-1zM397 610h1v10h-1zM401 609h1v11h-1zM405 606h1v14h-1zM409 605h1v15h-1zM413 604h1v16h-1zM417 605h1v15h-1zM421 604h1v16h-1zM425 603h1v17h-1zM429 605h1v15h-1zM433 608h1v12h-1zM437 611h1v9h-1zM441 612h1v8h-1zM445 614h1v6h-1zM449 614h1v6h-1zM453 613h1v7h-1zM457 613h1v7h-1zM461 616h1v4h-1zM465 618h1v2h-1zM469 618h1v2h-1zM473 618h1v2h-1zM477 618h1v2h-1zM481 619h1v1h-1zM485 618h1v2h-1zM489 618h1v2h-1zM493 618h1v2h-1zM497 618h1v2h-1zM501 618h1v2h-1zM505 618h1v2h-1zM509 615h1v5h-1zM513 610h1v10h-1zM517 607h1v13h-1zM521 605h1v15h-1zM525 604h1v16h-1zM529 604h1v16h-1zM533 607h1v13h-1zM537 608h1v12h-1zM541 606h1v14h-1zM545 606h1v14h-1zM549 606h1v14h-1zM553 606h1v14h-1zM557 606h1v14h-1zM561 606h1v14h-1zM565 605h1v15h-1zM569 608h1v12h-1zM573 609h1v11h-1zM577 609h1v11h-1zM581 609h1v11h-1zM585 610h1v10h-1zM589 611h1v9h-1zM593 612h1v8h-1zM597 612h1v8h-1zM601 614h1v6h-1zM605 616h1v4h-1zM609 618h1v2h-1zM613 615h1v5h-1zM617 616h1v4h-1zM621 616h1v4h-1zM625 616h1v4h-1zM629 615h1v5h-1zM633 613h1v7h-1zM637 610h1v10h-1zM641 609h1v11h-1zM645 608h1v12h-1zM649 611h1v9h-1zM653 615h1v5h-1zM657 617h1v3h-1zM661 619h1v2h-1zM665 619h1v8h-1zM669 619h1v14h-1zM673 619h1v18h-1zM677 619h1v21h-1zM681 619h1v20h-1zM685 619h1v19h-1zM689 619h1v14h-1zM693 619h1v12h-1zM697 619h1v10h-1zM701 619h1v9h-1zM705 619h1v13h-1zM709 619h1v19h-1zM713 619h1v23h-1zM717 619h1v26h-1zM721 619h1v28h-1zM725 619h1v30h-1zM729 619h1v34h-1zM733 619h1v37h-1zM737 619h1v40h-1zM741 619h1v42h-1zM745 619h1v41h-1zM749 619h1v42h-1zM753 619h1v42h-1zM757 619h1v43h-1zM761 619h1v42h-1zM765 619h1v41h-1zM769 619h1v38h-1zM773 619h1v35h-1zM777 619h1v34h-1zM781 619h1v33h-1zM785 619h1v33h-1zM789 619h1v33h-1zM793 619h1v32h-1zM797 619h1v30h-1zM801 619h1v28h-1zM805 619h1v27h-1zM809 619h1v26h-1zM813 619h1v24h-1zM817 619h1v20h-1zM821 619h1v16h-1zM825 619h1v12h-1zM829 619h1v9h-1zM833 619h1v6h-1zM837 619h1v3h-1zM841 619h1v1h-1zM845 619h1v1h-1zM849 617h1v3h-1zM853 615h1v5h-1zM857 613h1v7h-1zM861 612h1v8h-1zM865 610h1v10h-1zM869 607h1v13h-1zM873 603h1v17h-1zM877 603h1v17h-1zM881 605h1v15h-1zM885 606h1v14h-1zM889 606h1v14h-1zM893 607h1v13h-1zM897 604h1v16h-1zM901 601h1v19h-1zM905 602h1v18h-1zM909 602h1v18h-1zM913 600h1v20h-1zM917 600h1v20h-1zM921 601h1v19h-1zM925 601h1v19h-1zM929 601h1v19h-1zM933 602h1v18h-1zM937 604h1v16h-1zM941 605h1v15h-1zM945 605h1v15h-1zM949 606h1v14h-1zM953 606h1v14h-1zM957 606h1v14h-1zM961 605h1v15h-1zM965 604h1v16h-1zM969 608h1v12h-1zM973 613h1v7h-1zM977 618h1v2h-1zM981 619h1v2h-1zM985 619h1v5h-1zM989 619h1v9h-1zM993 619h1v10h-1zM997 619h1v9h-1zM1001 619h1v6h-1zM1005 619h1v5h-1zM1009 619h1v4h-1zM1013 619h1v3h-1zM1017 619h1v1h-1zM1021 619h1v1h-1zM1025 619h1v1h-1zM1029 618h1v2h-1zM1033 618h1v2h-1zM1037 618h1v2h-1zM1041 618h1v2h-1zM1045 618h1v2h-1zM1049 618h1v2h-1zM1053 619h1v1h-1zM1057 619h1v1h-1zM1061 619h1v1h-1zM1065 618h1v2h-1zM1069 614h1v6h-1zM1073 612h1v8h-1zM1077 612h1v8h-1zM1081 611h1v9h-1zM1085 611h1v9h-1zM1089 609h1v11h-1zM1093 612h1v8h-1zM1097 616h1v4h-1zM1101 619h1v1h-1zM1105 619h1v1h-1zM1109 619h1v3h-1zM1113 619h1v5h-1zM1117 619h1v9h-1zM1121 619h1v13h-1zM1125 619h1v15h-1zM1129 619h1v17h-1z"/>
<polyline points="5.0,599.4 20.5,598.6 41.0,598.0 61.6,595.9 82.2,592.8 90.4,591.8 98.6,586.7 106.8,581.5 115.0,577.4 123.3,574.7 131.5,573.3 139.7,574.3 145.9,577.4 152.0,584.6 158.2,595.9 164.4,607.2 170.5,619.5 176.7,629.8 182.9,637.0 189.0,641.0 195.2,643.8 203.4,643.2 213.7,641.0 224.0,638.4 234.2,639.0 242.5,641.0 250.7,645.8 258.9,647.3 267.1,645.2 275.3,641.0 283.5,635.0 290.0,629.4 298.2,626.0 306.4,625.3 314.7,626.7 322.9,628.8 331.1,630.4 339.3,629.8 345.5,627.3 351.6,622.6 357.8,617.0 364.0,610.9 369.1,605.6 374.2,601.4 380.4,599.4 386.6,598.4 392.7,600.0 398.9,602.0 405.1,604.7 413.3,605.4 423.6,605.4 433.8,604.5 442.0,605.4 448.2,606.4 454.4,608.8 460.5,610.9 466.7,613.0 474.9,615.0 483.1,616.4 491.4,617.5 499.6,617.7 507.8,617.0 514.0,616.0 520.1,613.4 526.3,611.9 532.4,609.7 538.6,607.6 544.8,605.6 553.0,605.4 563.3,605.4 573.5,606.2 583.0,606.4 590.3,607.6 598.5,610.3 606.7,611.3 614.9,612.5 623.1,613.8 631.4,614.6 639.6,613.4 645.7,612.1 654.0,612.1 662.2,612.3 668.3,615.8 674.5,620.6 680.7,626.1 686.8,630.8 693.0,633.9 701.2,634.5 711.5,635.1 721.8,636.0 727.9,639.7 734.1,644.2 740.3,649.3 746.4,653.4 752.6,656.9 758.8,658.6 764.9,660.6 769.0,660.6 775.2,658.2 783.4,657.5 789.6,656.1 795.7,654.0 804.0,651.6 812.2,649.3 818.3,647.3 824.5,644.2 830.7,640.1 836.8,636.0 843.0,630.8 849.2,626.7 855.3,622.6 861.5,619.1 867.7,615.4 873.8,611.9 878.2,609.7 886.4,607.2 894.7,604.7 902.9,603.7 911.1,603.1 919.3,601.4 927.5,600.6 935.7,600.4 944.0,601.4 952.2,602.7 960.4,604.1 968.6,605.1 974.8,606.2 981.0,608.8 987.1,612.3 993.3,616.4 999.4,620.6 1005.6,623.2 1011.8,624.7 1017.9,625.3 1024.1,623.2 1030.3,622.0 1036.4,620.0 1044.6,618.5 1052.9,617.5 1061.1,617.5 1069.3,617.0 1075.5,616.4 1081.6,615.4 1087.8,613.4 1094.0,612.3 1100.1,612.3 1106.3,613.4 1112.5,615.0 1118.6,617.9 1122.7,620.6 1125.8,623.2" fill="none" stroke="#ff0000" stroke-width="1" stroke-dasharray="3 3"/>
</g>
<g clip-path="url(#c3)" shape-rendering="crispEdges">
<path d="M6 709.5H1420M6 760.5H1420" stroke="#c0c0c0" stroke-width="1" stroke-dasharray="3 3" fill="none"/>
<path fill="#1e90ff" d="M4 723h1v1h-1zM5 723h1v1h-1zM6 722h1v1h-1zM7 721h1v1h-1zM8 720h1v1h-1zM9 719h1v1h-1zM10 719h1v1h-1zM11 720h1v1h-1zM12 721h1v1h-1zM13 721h1v1h-1zM14 722h1v1h-1zM15 722h1v1h-1zM16 722h1v1h-1zM17 722h1v1h-1zM18 722h1v1h-1zM19 721h1v1h-1zM20 721h1v1h-1zM21 721h1v1h-1zM22 722h1v1h-1zM23 723h1v2h-1zM24 725h1v2h-1zM25 727h1v1h-1zM26 728h1v2h-1zM27 730h1v2h-1zM28 732h1v2h-1zM29 734h1v1h-1zM30 733h1v2h-1zM31 731h1v2h-1zM32 729h1v2h-1zM33 726h1v3h-1zM34 724h1v2h-1zM35 722h1v2h-1zM36 719h1v3h-1zM37 717h1v2h-1zM38 716h1v1h-1zM39 716h1v1h-1zM40 715h1v1h-1zM41 715h1v3h-1zM42 718h1v4h-1zM43 722h1v3h-1zM44 725h1v4h-1zM45 729h1v1h-1zM46 728h1v1h-1zM47 727h1v1h-1zM48 726h1v1h-1zM49 725h1v1h-1zM50 723h1v2h-1zM51 722h1v1h-1zM52 720h1v2h-1zM53 719h1v1h-1zM54 720h1v1h-1zM55 720h1v1h-1zM56 721h1v1h-1zM57 722h1v1h-1zM58 723h1v1h-1zM59 723h1v1h-1zM60 724h1v1h-1zM61 724h1v1h-1zM62 725h1v1h-1zM63 725h1v1h-1zM64 725h1v1h-1zM65 724h1v1h-1zM66 724h1v1h-1zM67 724h1v1h-1zM68 723h1v1h-1zM69 723h1v1h-1zM70 723h1v1h-1zM71 722h1v1h-1zM72 722h1v1h-1zM73 722h1v1h-1zM74 721h1v1h-1zM75 721h1v1h-1zM76 720h1v1h-1zM77 719h1v1h-1zM78 718h1v1h-1zM79 717h1v1h-1zM80 716h1v1h-1zM81 715h1v1h-1zM82 714h1v1h-1zM83 714h1v1h-1zM84 713h1v1h-1zM85 713h1v1h-1zM86 712h1v1h-1zM87 712h1v1h-1zM88 711h1v1h-1zM89 711h1v1h-1zM90 709h1v2h-1zM91 708h1v1h-1zM92 706h1v2h-1zM93 705h1v1h-1zM94 704h1v1h-1zM95 704h1v1h-1zM96 704h1v1h-1zM97 704h1v1h-1zM98 704h1v1h-1zM99 704h1v1h-1zM100 705h1v1h-1zM101 705h1v1h-1zM102 706h1v1h-1zM103 706h1v1h-1zM104 706h1v1h-1zM105 706h1v1h-1zM106 706h1v1h-1zM107 707h1v1h-1zM108 708h1v1h-1zM109 708h1v1h-1zM110 708h1v1h-1zM111 707h1v1h-1zM112 706h1v1h-1zM113 705h1v1h-1zM114 705h1v1h-1zM115 704h1v1h-1zM116 703h1v1h-1zM117 703h1v1h-1zM118 703h1v1h-1zM119 704h1v1h-1zM120 705h1v1h-1zM121 705h1v1h-1zM122 706h1v1h-1zM123 706h1v1h-1zM124 706h1v1h-1zM125 707h1v1h-1zM126 707h1v1h-1zM127 706h1v1h-1zM128 706h1v1h-1zM129 706h1v1h-1zM130 706h1v1h-1zM131 706h1v1h-1zM132 706h1v1h-1zM133 706h1v4h-1zM134 710h1v6h-1zM135 716h1v9h-1zM136 725h1v7h-1zM137 732h1v6h-1zM138 738h1v2h-1zM139 740h1v2h-1zM140 742h1v2h-1zM141 744h1v2h-1zM142 746h1v1h-1zM143 747h1v1h-1zM144 748h1v1h-1zM145 749h1v1h-1zM146 750h1v2h-1zM147 752h1v1h-1zM148 753h1v2h-1zM149 755h1v1h-1zM150 756h1v1h-1zM151 757h1v1h-1zM152 757h1v1h-1zM153 758h1v1h-1zM154 759h1v1h-1zM155 760h1v1h-1zM156 761h1v1h-1zM157 761h1v1h-1zM158 761h1v1h-1zM159 760h1v1h-1zM160 759h1v1h-1zM161 757h1v2h-1zM162 756h1v1h-1zM163 755h1v1h-1zM164 753h1v2h-1zM165 752h1v1h-1zM166 752h1v1h-1zM167 752h1v1h-1zM168 752h1v1h-1zM169 752h1v1h-1zM170 752h1v1h-1zM171 751h1v1h-1zM172 751h1v1h-1zM173 751h1v1h-1zM174 751h1v1h-1zM175 751h1v1h-1zM176 751h1v1h-1zM177 752h1v1h-1zM178 752h1v1h-1zM179 752h1v1h-1zM180 753h1v1h-1zM181 753h1v1h-1zM182 752h1v1h-1zM183 751h1v1h-1zM184 749h1v2h-1zM185 748h1v1h-1zM186 748h1v1h-1zM187 748h1v1h-1zM188 749h1v1h-1zM189 749h1v1h-1zM190 749h1v1h-1zM191 749h1v1h-1zM192 748h1v1h-1zM193 748h1v1h-1zM194 747h1v1h-1zM195 746h1v1h-1zM196 745h1v1h-1zM197 744h1v1h-1zM198 741h1v3h-1zM199 738h1v3h-1zM200 735h1v3h-1zM201 734h1v1h-1zM202 733h1v1h-1zM203 734h1v1h-1zM204 735h1v1h-1zM205 735h1v1h-1zM206 735h1v1h-1zM207 735h1v1h-1zM208 734h1v1h-1zM209 734h1v3h-1zM210 737h1v4h-1zM211 741h1v5h-1zM212 746h1v4h-1zM213 750h1v1h-1zM214 751h1v1h-1zM215 751h1v1h-1zM216 752h1v1h-1zM217 751h1v2h-1zM218 749h1v2h-1zM219 747h1v2h-1zM220 745h1v2h-1zM221 744h1v1h-1zM222 744h1v1h-1zM223 744h1v1h-1zM224 743h1v1h-1zM225 744h1v3h-1zM226 747h1v3h-1zM227 750h1v3h-1zM228 753h1v2h-1zM229 755h1v1h-1zM230 756h1v1h-1zM231 756h1v1h-1zM232 757h1v1h-1zM233 758h1v1h-1zM234 758h1v1h-1zM235 759h1v1h-1zM236 760h1v1h-1zM237 761h1v1h-1zM238 761h1v1h-1zM239 760h1v1h-1zM240 760h1v1h-1zM241 759h1v1h-1zM242 758h1v1h-1zM243 758h1v1h-1zM244 757h1v1h-1zM245 756h1v1h-1zM246 756h1v1h-1zM247 755h1v1h-1zM248 754h1v1h-1zM249 753h1v2h-1zM250 749h1v4h-1zM251 744h1v5h-1zM252 740h1v4h-1zM253 737h1v3h-1zM254 734h1v3h-1zM255 731h1v3h-1zM256 728h1v3h-1zM257 727h1v1h-1zM258 728h1v1h-1zM259 729h1v1h-1zM260 730h1v2h-1zM261 732h1v1h-1zM262 732h1v1h-1zM263 731h1v1h-1zM264 731h1v1h-1zM265 731h1v1h-1zM266 730h1v1h-1zM267 729h1v1h-1zM268 729h1v1h-1zM269 728h1v1h-1zM270 729h1v3h-1zM271 732h1v2h-1zM272 734h1v3h-1zM273 737h1v1h-1zM274 737h1v1h-1zM275 736h1v1h-1zM276 735h1v1h-1zM277 734h1v1h-1zM278 733h1v1h-1zM279 732h1v1h-1zM280 731h1v1h-1zM281 730h1v1h-1zM282 730h1v1h-1zM283 731h1v1h-1zM284 732h1v2h-1zM285 734h1v1h-1zM286 735h1v1h-1zM287 735h1v1h-1zM288 736h1v1h-1zM289 736h1v1h-1zM290 737h1v1h-1zM291 737h1v1h-1zM292 737h1v1h-1zM293 737h1v1h-1zM294 738h1v1h-1zM295 738h1v1h-1zM296 739h1v1h-1zM297 739h1v1h-1zM298 740h1v2h-1zM299 742h1v1h-1zM300 743h1v1h-1zM301 744h1v1h-1zM302 743h1v2h-1zM303 741h1v2h-1zM304 739h1v2h-1zM305 738h1v1h-1zM306 738h1v3h-1zM307 741h1v2h-1zM308 743h1v2h-1zM309 745h1v2h-1zM310 747h1v1h-1zM311 747h1v1h-1zM312 747h1v1h-1zM313 747h1v1h-1zM314 746h1v1h-1zM315 744h1v2h-1zM316 742h1v2h-1zM317 741h1v1h-1zM318 740h1v1h-1zM319 740h1v1h-1zM320 741h1v1h-1zM321 741h1v1h-1zM322 742h1v1h-1zM323 742h1v1h-1zM324 743h1v1h-1zM325 744h1v1h-1zM326 744h1v1h-1zM327 743h1v1h-1zM328 742h1v1h-1zM329 739h1v3h-1zM330 735h1v4h-1zM331 731h1v4h-1zM332 727h1v4h-1zM333 726h1v1h-1zM334 725h1v1h-1zM335 726h1v1h-1zM336 726h1v1h-1zM337 727h1v1h-1zM338 726h1v1h-1zM339 726h1v1h-1zM340 725h1v1h-1zM341 724h1v1h-1zM342 723h1v1h-1zM343 722h1v1h-1zM344 721h1v1h-1zM345 720h1v1h-1zM346 719h1v1h-1zM347 717h1v2h-1zM348 715h1v2h-1zM349 714h1v1h-1zM350 713h1v1h-1zM351 713h1v1h-1zM352 713h1v1h-1zM353 713h1v1h-1zM354 713h1v1h-1zM355 714h1v2h-1zM356 716h1v1h-1zM357 717h1v1h-1zM358 718h1v1h-1zM359 718h1v1h-1zM360 717h1v1h-1zM361 717h1v1h-1zM362 718h1v1h-1zM363 719h1v1h-1zM364 719h1v1h-1zM365 720h1v1h-1zM366 721h1v2h-1zM367 723h1v1h-1zM368 724h1v2h-1zM369 726h1v2h-1zM370 728h1v1h-1zM371 729h1v2h-1zM372 731h1v2h-1zM373 733h1v1h-1zM374 733h1v1h-1zM375 733h1v1h-1zM376 732h1v1h-1zM377 731h1v1h-1zM378 730h1v1h-1zM379 730h1v1h-1zM380 730h1v1h-1zM381 729h1v1h-1zM382 729h1v1h-1zM383 729h1v1h-1zM384 729h1v1h-1zM385 729h1v1h-1zM386 729h1v1h-1zM387 729h1v1h-1zM388 729h1v1h-1zM389 730h1v1h-1zM390 730h1v1h-1zM391 730h1v1h-1zM392 731h1v1h-1zM393 732h1v1h-1zM394 733h1v2h-1zM395 735h1v1h-1zM396 736h1v1h-1zM397 737h1v1h-1zM398 734h1v3h-1zM399 731h1v3h-1zM400 728h1v3h-1zM401 726h1v2h-1zM402 725h1v1h-1zM403 724h1v1h-1zM404 723h1v1h-1zM405 722h1v1h-1zM406 721h1v1h-1zM407 721h1v1h-1zM408 720h1v1h-1zM409 720h1v1h-1zM410 720h1v2h-1zM411 722h1v1h-1zM412 723h1v1h-1zM413 724h1v1h-1zM414 725h1v1h-1zM415 726h1v1h-1zM416 727h1v1h-1zM417 728h1v1h-1zM418 727h1v1h-1zM419 726h1v1h-1zM420 724h1v2h-1zM421 723h1v1h-1zM422 723h1v1h-1zM423 722h1v1h-1zM424 721h1v1h-1zM425 721h1v2h-1zM426 723h1v3h-1zM427 726h1v3h-1zM428 729h1v4h-1zM429 733h1v1h-1zM430 734h1v1h-1zM431 734h1v1h-1zM432 734h1v1h-1zM433 734h1v1h-1zM434 735h1v1h-1zM435 736h1v1h-1zM436 737h1v1h-1zM437 738h1v1h-1zM438 738h1v1h-1zM439 737h1v1h-1zM440 736h1v1h-1zM441 735h1v1h-1zM442 735h1v1h-1zM443 735h1v1h-1zM444 735h1v1h-1zM445 735h1v1h-1zM446 734h1v1h-1zM447 734h1v1h-1zM448 733h1v1h-1zM449 732h1v1h-1zM450 731h1v1h-1zM451 730h1v1h-1zM452 729h1v1h-1zM453 728h1v1h-1zM454 728h1v1h-1zM455 729h1v1h-1zM456 730h1v1h-1zM457 730h1v2h-1zM458 732h1v2h-1zM459 734h1v3h-1zM460 737h1v2h-1zM461 739h1v1h-1zM462 739h1v1h-1zM463 739h1v1h-1zM464 738h1v1h-1zM465 738h1v1h-1zM466 738h1v1h-1zM467 738h1v1h-1zM468 739h1v1h-1zM469 738h1v2h-1zM470 736h1v2h-1zM471 734h1v2h-1zM472 732h1v2h-1zM473 731h1v1h-1zM474 731h1v2h-1zM475 733h1v2h-1zM476 735h1v1h-1zM477 736h1v1h-1zM478 737h1v1h-1zM479 737h1v1h-1zM480 737h1v1h-1zM481 737h1v1h-1zM482 736h1v1h-1zM483 734h1v2h-1zM484 733h1v1h-1zM485 732h1v1h-1zM486 731h1v1h-1zM487 732h1v1h-1zM488 732h1v1h-1zM489 733h1v1h-1zM490 733h1v1h-1zM491 733h1v1h-1zM492 734h1v1h-1zM493 734h1v1h-1zM494 733h1v1h-1zM495 733h1v1h-1zM496 732h1v1h-1zM497 731h1v1h-1zM498 730h1v1h-1zM499 730h1v1h-1zM500 729h1v1h-1zM501 729h1v1h-1zM502 730h1v2h-1zM503 732h1v2h-1zM504 734h1v1h-1zM505 735h1v1h-1zM506 731h1v4h-1zM507 728h1v3h-1zM508 724h1v4h-1zM509 722h1v2h-1zM510 720h1v2h-1zM511 718h1v2h-1zM512 716h1v2h-1zM513 715h1v1h-1zM514 715h1v1h-1zM515 716h1v1h-1zM516 717h1v1h-1zM517 718h1v1h-1zM518 719h1v1h-1zM519 720h1v1h-1zM520 721h1v1h-1zM521 722h1v1h-1zM522 722h1v1h-1zM523 722h1v1h-1zM524 721h1v1h-1zM525 721h1v1h-1zM526 721h1v1h-1zM527 721h1v1h-1zM528 722h1v1h-1zM529 722h1v2h-1zM530 724h1v3h-1zM531 727h1v3h-1zM532 730h1v3h-1zM533 733h1v1h-1zM534 733h1v2h-1zM535 731h1v2h-1zM536 730h1v1h-1zM537 728h1v2h-1zM538 727h1v1h-1zM539 726h1v1h-1zM540 724h1v2h-1zM541 723h1v2h-1zM542 725h1v1h-1zM543 726h1v2h-1zM544 728h1v2h-1zM545 730h1v1h-1zM546 729h1v2h-1zM547 728h1v1h-1zM548 726h1v2h-1zM549 725h1v1h-1zM550 725h1v1h-1zM551 726h1v1h-1zM552 727h1v1h-1zM553 728h1v1h-1zM554 729h1v1h-1zM555 728h1v1h-1zM556 727h1v1h-1zM557 726h1v1h-1zM558 726h1v1h-1zM559 725h1v1h-1zM560 725h1v1h-1zM561 725h1v1h-1zM562 725h1v1h-1zM563 725h1v1h-1zM564 726h1v1h-1zM565 726h1v1h-1zM566 727h1v3h-1zM567 730h1v2h-1zM568 732h1v2h-1zM569 734h1v1h-1zM570 734h1v1h-1zM571 733h1v1h-1zM572 732h1v1h-1zM573 731h1v1h-1zM574 730h1v1h-1zM575 729h1v1h-1zM576 728h1v1h-1zM577 727h1v1h-1zM578 726h1v1h-1zM579 727h1v1h-1zM580 728h1v1h-1zM581 728h1v1h-1zM582 729h1v1h-1zM583 730h1v1h-1zM584 731h1v1h-1zM585 732h1v1h-1zM586 732h1v1h-1zM587 731h1v1h-1zM588 730h1v1h-1zM589 729h1v1h-1zM590 729h1v1h-1zM591 730h1v1h-1zM592 731h1v1h-1zM593 732h1v1h-1zM594 733h1v1h-1zM595 733h1v1h-1zM596 732h1v1h-1zM597 732h1v1h-1zM598 732h1v1h-1zM599 733h1v1h-1zM600 734h1v1h-1zM601 735h1v1h-1zM602 736h1v1h-1zM603 737h1v1h-1zM604 738h1v1h-1zM605 739h1v1h-1zM606 739h1v1h-1zM607 737h1v2h-1zM608 735h1v2h-1zM609 733h1v2h-1zM610 732h1v1h-1zM611 730h1v2h-1zM612 729h1v1h-1zM613 728h1v1h-1zM614 728h1v1h-1zM615 729h1v2h-1zM616 731h1v2h-1zM617 733h1v1h-1zM618 734h1v1h-1zM619 734h1v1h-1zM620 734h1v1h-1zM621 734h1v1h-1zM622 734h1v1h-1zM623 734h1v1h-1zM624 734h1v1h-1zM625 734h1v1h-1zM626 732h1v2h-1zM627 729h1v3h-1zM628 727h1v2h-1zM629 726h1v1h-1zM630 725h1v1h-1zM631 724h1v1h-1zM632 723h1v1h-1zM633 722h1v1h-1zM634 721h1v1h-1zM635 720h1v1h-1zM636 719h1v1h-1zM637 719h1v1h-1zM638 719h1v1h-1zM639 719h1v1h-1zM640 720h1v1h-1zM641 720h1v1h-1zM642 721h1v1h-1zM643 721h1v1h-1zM644 721h1v1h-1zM645 721h1v3h-1zM646 724h1v4h-1zM647 728h1v4h-1zM648 732h1v4h-1zM649 736h1v3h-1zM650 739h1v2h-1zM651 741h1v2h-1zM652 743h1v2h-1zM653 745h1v1h-1zM654 745h1v2h-1zM655 744h1v1h-1zM656 742h1v2h-1zM657 741h1v1h-1zM658 741h1v2h-1zM659 743h1v2h-1zM660 745h1v3h-1zM661 748h1v2h-1zM662 750h1v2h-1zM663 752h1v2h-1zM664 754h1v2h-1zM665 756h1v2h-1zM666 758h1v1h-1zM667 758h1v1h-1zM668 758h1v1h-1zM669 758h1v1h-1zM670 758h1v1h-1zM671 758h1v1h-1zM672 758h1v1h-1zM673 758h1v1h-1zM674 758h1v1h-1zM675 757h1v1h-1zM676 756h1v1h-1zM677 754h1v2h-1zM678 752h1v2h-1zM679 749h1v3h-1zM680 746h1v3h-1zM681 745h1v1h-1zM682 744h1v1h-1zM683 744h1v1h-1zM684 745h1v1h-1zM685 745h1v1h-1zM686 741h1v4h-1zM687 738h1v3h-1zM688 734h1v4h-1zM689 732h1v2h-1zM690 731h1v1h-1zM691 731h1v1h-1zM692 732h1v1h-1zM693 732h1v1h-1zM694 732h1v1h-1zM695 732h1v1h-1zM696 732h1v1h-1zM697 732h1v1h-1zM698 733h1v2h-1zM699 735h1v1h-1zM700 736h1v2h-1zM701 738h1v2h-1zM702 740h1v3h-1zM703 743h1v3h-1zM704 746h1v3h-1zM705 749h1v2h-1zM706 751h1v2h-1zM707 753h1v2h-1zM708 755h1v2h-1zM709 757h1v1h-1zM710 758h1v1h-1zM711 757h1v1h-1zM712 756h1v1h-1zM713 755h1v1h-1zM714 754h1v1h-1zM715 754h1v1h-1zM716 754h1v1h-1zM717 755h1v1h-1zM718 755h1v1h-1zM719 755h1v1h-1zM720 756h1v1h-1zM721 756h1v1h-1zM722 756h1v1h-1zM723 756h1v1h-1zM724 757h1v1h-1zM725 757h1v1h-1zM726 758h1v1h-1zM727 759h1v1h-1zM728 760h1v1h-1zM729 761h1v1h-1zM730 762h1v1h-1zM731 762h1v1h-1zM732 763h1v1h-1zM733 763h1v1h-1zM734 764h1v1h-1zM735 764h1v1h-1zM736 765h1v1h-1zM737 765h1v1h-1zM738 765h1v1h-1zM739 764h1v1h-1zM740 764h1v1h-1zM741 763h1v1h-1zM742 761h1v2h-1zM743 758h1v3h-1zM744 756h1v2h-1zM745 755h1v1h-1zM746 755h1v1h-1zM747 755h1v1h-1zM748 756h1v1h-1zM749 757h1v1h-1zM750 758h1v1h-1zM751 759h1v1h-1zM752 760h1v1h-1zM753 761h1v1h-1zM754 761h1v1h-1zM755 761h1v1h-1zM756 761h1v1h-1zM757 761h1v2h-1zM758 760h1v1h-1zM759 758h1v2h-1zM760 756h1v2h-1zM761 755h1v1h-1zM762 754h1v1h-1zM763 754h1v1h-1zM764 755h1v1h-1zM765 755h1v1h-1zM766 754h1v1h-1zM767 753h1v1h-1zM768 752h1v1h-1zM769 751h1v1h-1zM770 749h1v2h-1zM771 748h1v1h-1zM772 747h1v1h-1zM773 746h1v1h-1zM774 745h1v2h-1zM775 747h1v2h-1zM776 749h1v1h-1zM777 750h1v2h-1zM778 752h1v1h-1zM779 752h1v1h-1zM780 752h1v1h-1zM781 752h1v1h-1zM782 753h1v1h-1zM783 754h1v1h-1zM784 755h1v1h-1zM785 756h1v1h-1zM786 757h1v1h-1zM787 756h1v1h-1zM788 756h1v1h-1zM789 756h1v1h-1zM790 756h1v1h-1zM791 755h1v1h-1zM792 754h1v1h-1zM793 752h1v2h-1zM794 750h1v2h-1zM795 749h1v1h-1zM796 747h1v2h-1zM797 746h1v1h-1zM798 745h1v1h-1zM799 746h1v1h-1zM800 747h1v1h-1zM801 748h1v1h-1zM802 749h1v1h-1zM803 750h1v1h-1zM804 751h1v1h-1zM805 751h1v1h-1zM806 751h1v1h-1zM807 750h1v1h-1zM808 748h1v2h-1zM809 747h1v1h-1zM810 746h1v1h-1zM811 746h1v1h-1zM812 747h1v1h-1zM813 746h1v2h-1zM814 742h1v4h-1zM815 738h1v4h-1zM816 735h1v3h-1zM817 734h1v1h-1zM818 733h1v1h-1zM819 732h1v1h-1zM820 732h1v1h-1zM821 731h1v1h-1zM822 731h1v1h-1zM823 731h1v1h-1zM824 731h1v1h-1zM825 731h1v1h-1zM826 730h1v1h-1zM827 730h1v1h-1zM828 729h1v1h-1zM829 728h1v1h-1zM830 727h1v1h-1zM831 727h1v1h-1zM832 727h1v1h-1zM833 726h1v1h-1zM834 726h1v1h-1zM835 726h1v1h-1zM836 726h1v1h-1zM837 726h1v1h-1zM838 726h1v1h-1zM839 726h1v1h-1zM840 726h1v1h-1zM841 727h1v1h-1zM842 728h1v1h-1zM843 728h1v1h-1zM844 729h1v1h-1zM845 730h1v1h-1zM846 729h1v2h-1zM847 727h1v2h-1zM848 725h1v2h-1zM849 722h1v3h-1zM850 721h1v1h-1zM851 721h1v1h-1zM852 721h1v1h-1zM853 720h1v1h-1zM854 720h1v1h-1zM855 720h1v1h-1zM856 720h1v1h-1zM857 720h1v1h-1zM858 720h1v1h-1zM859 720h1v1h-1zM860 721h1v1h-1zM861 721h1v1h-1zM862 722h1v1h-1zM863 721h1v1h-1zM864 720h1v1h-1zM865 719h1v2h-1zM866 717h1v2h-1zM867 715h1v2h-1zM868 712h1v3h-1zM869 711h1v1h-1zM870 709h1v2h-1zM871 708h1v1h-1zM872 707h1v1h-1zM873 706h1v3h-1zM874 709h1v6h-1zM875 715h1v5h-1zM876 720h1v6h-1zM877 726h1v1h-1zM878 727h1v1h-1zM879 727h1v1h-1zM880 728h1v1h-1zM881 729h1v1h-1zM882 729h1v1h-1zM883 729h1v1h-1zM884 729h1v1h-1zM885 728h1v1h-1zM886 727h1v1h-1zM887 727h1v1h-1zM888 726h1v1h-1zM889 725h1v1h-1zM890 726h1v1h-1zM891 727h1v1h-1zM892 728h1v1h-1zM893 729h1v1h-1zM894 725h1v4h-1zM895 722h1v3h-1zM896 718h1v4h-1zM897 717h1v1h-1zM898 717h1v1h-1zM899 717h1v1h-1zM900 716h1v1h-1zM901 716h1v2h-1zM902 718h1v2h-1zM903 720h1v2h-1zM904 722h1v2h-1zM905 724h1v1h-1zM906 724h1v1h-1zM907 725h1v1h-1zM908 725h1v1h-1zM909 725h1v2h-1zM910 723h1v2h-1zM911 721h1v2h-1zM912 719h1v2h-1zM913 718h1v1h-1zM914 719h1v1h-1zM915 719h1v1h-1zM916 719h1v1h-1zM917 720h1v1h-1zM918 721h1v1h-1zM919 722h1v2h-1zM920 724h1v1h-1zM921 725h1v1h-1zM922 725h1v1h-1zM923 725h1v1h-1zM924 724h1v1h-1zM925 724h1v1h-1zM926 724h1v1h-1zM927 724h1v1h-1zM928 725h1v1h-1zM929 725h1v1h-1zM930 724h1v1h-1zM931 724h1v1h-1zM932 723h1v1h-1zM933 722h1v2h-1zM934 724h1v3h-1zM935 727h1v3h-1zM936 730h1v3h-1zM937 733h1v1h-1zM938 733h1v1h-1zM939 731h1v2h-1zM940 730h1v1h-1zM941 729h1v1h-1zM942 728h1v1h-1zM943 727h1v1h-1zM944 726h1v1h-1zM945 725h1v1h-1zM946 726h1v1h-1zM947 727h1v1h-1zM948 728h1v1h-1zM949 729h1v1h-1zM950 728h1v2h-1zM951 727h1v1h-1zM952 725h1v2h-1zM953 724h1v1h-1zM954 724h1v1h-1zM955 724h1v1h-1zM956 724h1v1h-1zM957 725h1v1h-1zM958 724h1v1h-1zM959 724h1v1h-1zM960 723h1v1h-1zM961 723h1v1h-1zM962 722h1v1h-1zM963 722h1v1h-1zM964 722h1v1h-1zM965 722h1v2h-1zM966 724h1v6h-1zM967 730h1v5h-1zM968 735h1v6h-1zM969 741h1v1h-1zM970 742h1v1h-1zM971 741h1v1h-1zM972 741h1v1h-1zM973 741h1v1h-1zM974 742h1v2h-1zM975 744h1v1h-1zM976 745h1v2h-1zM977 747h1v1h-1zM978 748h1v1h-1zM979 748h1v1h-1zM980 748h1v1h-1zM981 749h1v1h-1zM982 749h1v1h-1zM983 749h1v1h-1zM984 749h1v1h-1zM985 749h1v1h-1zM986 750h1v1h-1zM987 750h1v1h-1zM988 751h1v1h-1zM989 752h1v1h-1zM990 750h1v2h-1zM991 748h1v2h-1zM992 746h1v2h-1zM993 744h1v2h-1zM994 743h1v1h-1zM995 741h1v2h-1zM996 740h1v1h-1zM997 738h1v2h-1zM998 735h1v3h-1zM999 733h1v2h-1zM1000 730h1v3h-1zM1001 729h1v1h-1zM1002 730h1v2h-1zM1003 732h1v3h-1zM1004 735h1v2h-1zM1005 737h1v1h-1zM1006 737h1v1h-1zM1007 736h1v1h-1zM1008 735h1v1h-1zM1009 734h1v1h-1zM1010 734h1v1h-1zM1011 734h1v1h-1zM1012 734h1v1h-1zM1013 734h1v1h-1zM1014 732h1v2h-1zM1015 730h1v2h-1zM1016 728h1v2h-1zM1017 727h1v1h-1zM1018 727h1v1h-1zM1019 728h1v2h-1zM1020 730h1v1h-1zM1021 731h1v1h-1zM1022 731h1v1h-1zM1023 731h1v1h-1zM1024 730h1v1h-1zM1025 730h1v1h-1zM1026 730h1v1h-1zM1027 730h1v1h-1zM1028 730h1v1h-1zM1029 730h1v1h-1zM1030 731h1v1h-1zM1031 731h1v1h-1zM1032 731h1v1h-1zM1033 732h1v1h-1zM1034 733h1v1h-1zM1035 734h1v1h-1zM1036 734h1v1h-1zM1037 735h1v1h-1zM1038 735h1v1h-1zM1039 735h1v1h-1zM1040 734h1v1h-1zM1041 733h1v1h-1zM1042 732h1v1h-1zM1043 732h1v1h-1zM1044 731h1v1h-1zM1045 731h1v1h-1zM1046 731h1v2h-1zM1047 733h1v1h-1zM1048 734h1v1h-1zM1049 735h1v1h-1zM1050 736h1v1h-1zM1051 736h1v1h-1zM1052 737h1v1h-1zM1053 737h1v1h-1zM1054 737h1v1h-1zM1055 737h1v1h-1zM1056 737h1v1h-1zM1057 736h1v1h-1zM1058 737h1v1h-1zM1059 738h1v1h-1zM1060 739h1v1h-1zM1061 738h1v3h-1zM1062 734h1v4h-1zM1063 729h1v5h-1zM1064 725h1v4h-1zM1065 723h1v2h-1zM1066 722h1v1h-1zM1067 722h1v1h-1zM1068 721h1v1h-1zM1069 721h1v1h-1zM1070 721h1v1h-1zM1071 722h1v1h-1zM1072 723h1v1h-1zM1073 724h1v1h-1zM1074 724h1v1h-1zM1075 725h1v1h-1zM1076 726h1v1h-1zM1077 727h1v1h-1zM1078 727h1v1h-1zM1079 727h1v1h-1zM1080 727h1v1h-1zM1081 727h1v1h-1zM1082 727h1v1h-1zM1083 726h1v1h-1zM1084 726h1v1h-1zM1085 725h1v1h-1zM1086 725h1v1h-1zM1087 724h1v1h-1zM1088 723h1v1h-1zM1089 723h1v1h-1zM1090 724h1v2h-1zM1091 726h1v3h-1zM1092 729h1v2h-1zM1093 731h1v4h-1zM1094 735h1v4h-1zM1095 739h1v5h-1zM1096 744h1v4h-1zM1097 748h1v1h-1zM1098 748h1v1h-1zM1099 747h1v1h-1zM1100 746h1v1h-1zM1101 745h1v1h-1zM1102 744h1v1h-1zM1103 743h1v1h-1zM1104 742h1v1h-1zM1105 742h1v1h-1zM1106 742h1v1h-1zM1107 742h1v1h-1zM1108 743h1v1h-1zM1109 743h1v1h-1zM1110 744h1v1h-1zM1111 744h1v1h-1zM1112 744h1v1h-1zM1113 744h1v1h-1zM1114 745h1v2h-1zM1115 747h1v2h-1zM1116 749h1v2h-1zM1117 751h1v2h-1zM1118 753h1v1h-1zM1119 753h1v1h-1zM1120 754h1v1h-1zM1121 754h1v1h-1zM1122 754h1v1h-1zM1123 753h1v1h-1zM1124 753h1v1h-1zM1125 752h1v1h-1zM1126 752h1v1h-1zM1127 752h1v1h-1zM1128 752h1v1h-1z"/>
</g>
</svg>
<div class="abs" style="left:5px;top:128px;width:1415px;height:3px;background:#ff0000"></div>
<div class="abs" style="left:4px;top:126px;width:7px;height:7px;background:#ff0000"></div>
<div class="abs" style="left:7px;top:129px;width:1px;height:1px;background:#fff"></div>
<div class="abs" style="left:1414px;top:126px;width:7px;height:7px;background:#ff0000"></div>
<div class="abs" style="left:1417px;top:129px;width:1px;height:1px;background:#fff"></div>
<div class="abs" style="left:5px;top:213px;width:1415px;height:3px;background:#ff0000"></div>
<div class="abs" style="left:4px;top:211px;width:7px;height:7px;background:#ff0000"></div>
<div class="abs" style="left:7px;top:214px;width:1px;height:1px;background:#fff"></div>
<div class="abs" style="left:1414px;top:211px;width:7px;height:7px;background:#ff0000"></div>
<div class="abs" style="left:1417px;top:214px;width:1px;height:1px;background:#fff"></div>
<div class="abs" style="left:5px;top:294px;width:1415px;height:3px;background:#00ff00"></div>
<div class="abs" style="left:4px;top:292px;width:7px;height:7px;background:#00ff00"></div>
<div class="abs" style="left:7px;top:295px;width:1px;height:1px;background:#fff"></div>
<div class="abs" style="left:1414px;top:292px;width:7px;height:7px;background:#00ff00"></div>
<div class="abs" style="left:1417px;top:295px;width:1px;height:1px;background:#fff"></div>
<div class="abs" style="left:5px;top:420px;width:1415px;height:3px;background:#0000ff"></div>
<div class="abs" style="left:4px;top:418px;width:7px;height:7px;background:#0000ff"></div>
<div class="abs" style="left:7px;top:421px;width:1px;height:1px;background:#fff"></div>
<div class="abs" style="left:1414px;top:418px;width:7px;height:7px;background:#0000ff"></div>
<div class="abs" style="left:1417px;top:421px;width:1px;height:1px;background:#fff"></div>
<div class="abs" style="left:5px;top:559px;width:1416px;height:3px;background:#0000ff"></div>
<div class="abs" style="left:5px;top:460px;width:1415px;height:1px;background:#c0c0c0"></div>
<div class="abs" style="left:1421px;top:31px;width:3px;height:1px;background:#000"></div>
<div class="x" style="left:1426px;top:26px;font-size:11px;line-height:12px;color:#000;transform:scale(0.8299,1.0000);transform-origin:0 0;">1.36880</div>
<div class="abs" style="left:1421px;top:64px;width:3px;height:1px;background:#000"></div>
<div class="x" style="left:1426px;top:59px;font-size:11px;line-height:12px;color:#000;transform:scale(0.8299,1.0000);transform-origin:0 0;">1.36450</div>
<div class="abs" style="left:1421px;top:97px;width:3px;height:1px;background:#000"></div>
<div class="x" style="left:1426px;top:92px;font-size:11px;line-height:12px;color:#000;transform:scale(0.8299,1.0000);transform-origin:0 0;">1.36020</div>
<div class="abs" style="left:1421px;top:163px;width:3px;height:1px;background:#000"></div>
<div class="x" style="left:1426px;top:158px;font-size:11px;line-height:12px;color:#000;transform:scale(0.8299,1.0000);transform-origin:0 0;">1.35170</div>
<div class="abs" style="left:1421px;top:196px;width:3px;height:1px;background:#000"></div>
<div class="x" style="left:1426px;top:191px;font-size:11px;line-height:12px;color:#000;transform:scale(0.8299,1.0000);transform-origin:0 0;">1.34740</div>
<div class="abs" style="left:1421px;top:229px;width:3px;height:1px;background:#000"></div>
<div class="x" style="left:1426px;top:224px;font-size:11px;line-height:12px;color:#000;transform:scale(0.8299,1.0000);transform-origin:0 0;">1.34310</div>
<div class="abs" style="left:1421px;top:262px;width:3px;height:1px;background:#000"></div>
<div class="x" style="left:1426px;top:257px;font-size:11px;line-height:12px;color:#000;transform:scale(0.8299,1.0000);transform-origin:0 0;">1.33880</div>
<div class="abs" style="left:1421px;top:328px;width:3px;height:1px;background:#000"></div>
<div class="x" style="left:1426px;top:323px;font-size:11px;line-height:12px;color:#000;transform:scale(0.8299,1.0000);transform-origin:0 0;">1.33020</div>
<div class="abs" style="left:1421px;top:361px;width:3px;height:1px;background:#000"></div>
<div class="x" style="left:1426px;top:356px;font-size:11px;line-height:12px;color:#000;transform:scale(0.8299,1.0000);transform-origin:0 0;">1.32590</div>
<div class="abs" style="left:1421px;top:394px;width:3px;height:1px;background:#000"></div>
<div class="x" style="left:1426px;top:389px;font-size:11px;line-height:12px;color:#000;transform:scale(0.8299,1.0000);transform-origin:0 0;">1.32160</div>
<div class="abs" style="left:1421px;top:427px;width:3px;height:1px;background:#000"></div>
<div class="x" style="left:1426px;top:422px;font-size:11px;line-height:12px;color:#000;transform:scale(0.8299,1.0000);transform-origin:0 0;">1.31730</div>
<div class="abs" style="left:1421px;top:493px;width:3px;height:1px;background:#000"></div>
<div class="x" style="left:1426px;top:488px;font-size:11px;line-height:12px;color:#000;transform:scale(0.8299,1.0000);transform-origin:0 0;">1.30870</div>
<div class="abs" style="left:1421px;top:526px;width:3px;height:1px;background:#000"></div>
<div class="x" style="left:1426px;top:521px;font-size:11px;line-height:12px;color:#000;transform:scale(0.8299,1.0000);transform-origin:0 0;">1.30440</div>
<div class="abs" style="left:1422px;top:123px;width:41px;height:11px;background:#ff0000"></div>
<div class="x" style="left:1426px;top:123px;font-size:11px;line-height:12px;color:#fff;transform:scale(0.8299,1.0000);transform-origin:0 0;">1.35606</div>
<div class="abs" style="left:1422px;top:208px;width:41px;height:11px;background:#ff0000"></div>
<div class="x" style="left:1426px;top:208px;font-size:11px;line-height:12px;color:#fff;transform:scale(0.8299,1.0000);transform-origin:0 0;">1.34501</div>
<div class="abs" style="left:1422px;top:289px;width:41px;height:11px;background:#00ff00"></div>
<div class="x" style="left:1426px;top:289px;font-size:11px;line-height:12px;color:#fff;transform:scale(0.8299,1.0000);transform-origin:0 0;">1.33449</div>
<div class="abs" style="left:1422px;top:415px;width:41px;height:11px;background:#0000ff"></div>
<div class="x" style="left:1426px;top:415px;font-size:11px;line-height:12px;color:#fff;transform:scale(0.8299,1.0000);transform-origin:0 0;">1.31812</div>
<div class="abs" style="left:1422px;top:554px;width:41px;height:11px;background:#0000ff"></div>
<div class="x" style="left:1426px;top:554px;font-size:11px;line-height:12px;color:#fff;transform:scale(0.8299,1.0000);transform-origin:0 0;">1.30004</div>
<div class="abs" style="left:1422px;top:454px;width:41px;height:11px;background:#000000"></div>
<div class="x" style="left:1426px;top:454px;font-size:11px;line-height:12px;color:#fff;transform:scale(0.8299,1.0000);transform-origin:0 0;">1.31300</div>
<div class="x" style="left:1424px;top:566px;font-size:11px;line-height:12px;color:#000;transform:scale(0.8521,1.0000);transform-origin:0 0;">0.010311</div>
<div class="x" style="left:1424px;top:614px;font-size:11px;line-height:12px;color:#000;transform:scale(0.8875,1.0000);transform-origin:0 0;">0.00</div>
<div class="x" style="left:1424px;top:655px;font-size:11px;line-height:12px;color:#000;transform:scale(0.8578,1.0000);transform-origin:0 0;">-0.009203</div>
<div class="abs" style="left:1421px;top:619px;width:3px;height:1px;background:#000"></div>
<div class="x" style="left:1424px;top:671px;font-size:11px;line-height:12px;color:#000;transform:scale(0.8336,1.0000);transform-origin:0 0;">100</div>
<div class="x" style="left:1424px;top:704px;font-size:11px;line-height:12px;color:#000;transform:scale(0.8581,1.0000);transform-origin:0 0;">70</div>
<div class="x" style="left:1424px;top:755px;font-size:11px;line-height:12px;color:#000;transform:scale(0.8581,1.0000);transform-origin:0 0;">30</div>
<div class="x" style="left:1424px;top:787px;font-size:11px;line-height:12px;color:#000;transform:scale(0.8990,1.0000);transform-origin:0 0;">0</div>
<div class="abs" style="left:1421px;top:709px;width:3px;height:1px;background:#000"></div>
<div class="abs" style="left:1421px;top:760px;width:3px;height:1px;background:#000"></div>
<div class="x" style="left:20px;top:26px;font-size:11px;line-height:12px;color:#000;transform:scale(0.8889,1.0000);transform-origin:0 0;">USDCAD-,Daily</div>
<div class="x" style="left:95px;top:26px;font-size:11px;line-height:12px;color:#000;transform:scale(0.8400,1.0000);transform-origin:0 0;">1.31308</div>
<div class="x" style="left:131.1px;top:26px;font-size:11px;line-height:12px;color:#000;transform:scale(0.8400,1.0000);transform-origin:0 0;">1.31313</div>
<div class="x" style="left:167.2px;top:26px;font-size:11px;line-height:12px;color:#000;transform:scale(0.8400,1.0000);transform-origin:0 0;">1.31257</div>
<div class="x" style="left:203.3px;top:26px;font-size:11px;line-height:12px;color:#000;transform:scale(0.8400,1.0000);transform-origin:0 0;">1.31300</div>
<svg class="abs" style="left:8px;top:28px" width="8" height="6"><path d="M0 5.5 L3.5 1 L7 5.5 Z" fill="#000"/></svg>
<div class="x" style="left:9px;top:568px;font-size:11px;line-height:12px;color:#000;transform:scale(0.8534,1.0000);transform-origin:0 0;">MACD(12,26,9) -0.003308 -0.001310</div>
<div class="x" style="left:9px;top:673px;font-size:11px;line-height:12px;color:#000;transform:scale(0.8548,1.0000);transform-origin:0 0;">RSI(14) 36.2376</div>
<div class="abs" style="left:8px;top:43px;width:219px;height:64px;background:linear-gradient(#fb5252 0%,#e83a3a 30%,#c81a1a 70%,#ad0202 100%)"></div>
<div class="abs" style="left:60px;top:43px;width:115px;height:24px;background:#fff"></div>
<div class="abs" style="left:117px;top:67px;width:2px;height:40px;background:#fff"></div>
<div class="abs" style="left:12px;top:66px;width:44px;height:1px;background:#8a0000"></div>
<div class="abs" style="left:179px;top:66px;width:44px;height:1px;background:#8a0000"></div>
<div class="abs" style="left:62px;top:43px;width:112px;height:23px;border:1px solid #a9a9a9;box-sizing:border-box;background:#fff"></div>
<div class="abs" style="left:63px;top:44px;width:20px;height:21px;background:linear-gradient(#e8e8e8,#c8c8c8);border-right:1px solid #a9a9a9"></div>
<div class="abs" style="left:152px;top:44px;width:20px;height:21px;background:linear-gradient(#e8e8e8,#c8c8c8);border-left:1px solid #a9a9a9"></div>
<svg class="abs" style="left:70px;top:52px" width="6" height="4"><path d="M0 0 L5.4 0 L2.7 3.2 Z" fill="#4a5ec0"/></svg>
<svg class="abs" style="left:159px;top:52px" width="6" height="4"><path d="M0 3.2 L5.4 3.2 L2.7 0 Z" fill="#4a5ec0"/></svg>
<div class="x" style="left:125px;top:48px;font-size:11.5px;line-height:11.5px;color:#000;transform:scale(1.0544,1.0000);transform-origin:0 0;">1.00</div>
<div class="x" style="left:20.5px;top:49px;font-size:12px;line-height:12px;color:#fff;transform:scale(0.8993,1.0000);transform-origin:0 0;">SELL</div>
<div class="x" style="left:188.6px;top:49px;font-size:12px;line-height:12px;color:#fff;transform:scale(0.9402,1.0000);transform-origin:0 0;">BUY</div>
<div class="x" style="left:28.3px;top:87.5px;font-size:12.5px;line-height:12.5px;color:#fff;font-weight:bold;transform:scale(1.0111,1.0000);transform-origin:0 0;">1.31</div>
<div class="x" style="left:57px;top:69.5px;font-size:34px;line-height:34px;color:#fff;transform:scale(0.8990,1.0000);transform-origin:0 0;">30</div>
<div class="x" style="left:95px;top:72px;font-size:12px;line-height:12px;color:#fff;font-weight:bold;transform:scale(1.1987,1.0000);transform-origin:0 0;">0</div>
<div class="x" style="left:137.3px;top:87.5px;font-size:12.5px;line-height:12.5px;color:#fff;font-weight:bold;transform:scale(1.0111,1.0000);transform-origin:0 0;">1.31</div>
<div class="x" style="left:166px;top:69.5px;font-size:34px;line-height:34px;color:#fff;transform:scale(0.8990,1.0000);transform-origin:0 0;">32</div>
<div class="x" style="left:204px;top:72px;font-size:12px;line-height:12px;color:#fff;font-weight:bold;transform:scale(1.1987,1.0000);transform-origin:0 0;">3</div>
<div class="abs" style="left:5px;top:800px;width:1px;height:3px;background:#000"></div>
<div class="x" style="left:4px;top:803px;font-size:11px;line-height:12px;color:#000;transform:scale(0.8753,1.0000);transform-origin:0 0;">26 Nov 2018</div>
<div class="abs" style="left:69px;top:800px;width:1px;height:3px;background:#000"></div>
<div class="x" style="left:68px;top:803px;font-size:11px;line-height:12px;color:#000;transform:scale(0.8432,1.0000);transform-origin:0 0;">14 Dec 2018</div>
<div class="abs" style="left:133px;top:800px;width:1px;height:3px;background:#000"></div>
<div class="x" style="left:132px;top:803px;font-size:11px;line-height:12px;color:#000;transform:scale(0.8303,1.0000);transform-origin:0 0;">2 Jan 2019</div>
<div class="abs" style="left:197px;top:800px;width:1px;height:3px;background:#000"></div>
<div class="x" style="left:196px;top:803px;font-size:11px;line-height:12px;color:#000;transform:scale(0.8356,1.0000);transform-origin:0 0;">21 Jan 2019</div>
<div class="abs" style="left:261px;top:800px;width:1px;height:3px;background:#000"></div>
<div class="x" style="left:260px;top:803px;font-size:11px;line-height:12px;color:#000;transform:scale(0.8481,1.0000);transform-origin:0 0;">8 Feb 2019</div>
<div class="abs" style="left:325px;top:800px;width:1px;height:3px;background:#000"></div>
<div class="x" style="left:324px;top:803px;font-size:11px;line-height:12px;color:#000;transform:scale(0.8499,1.0000);transform-origin:0 0;">27 Feb 2019</div>
<div class="abs" style="left:389px;top:800px;width:1px;height:3px;background:#000"></div>
<div class="x" style="left:388px;top:803px;font-size:11px;line-height:12px;color:#000;transform:scale(0.8500,1.0000);transform-origin:0 0;">18 Mar 2019</div>
<div class="abs" style="left:453px;top:800px;width:1px;height:3px;background:#000"></div>
<div class="x" style="left:452px;top:803px;font-size:11px;line-height:12px;color:#000;transform:scale(0.8450,1.0000);transform-origin:0 0;">5 Apr 2019</div>
<div class="abs" style="left:517px;top:800px;width:1px;height:3px;background:#000"></div>
<div class="x" style="left:516px;top:803px;font-size:11px;line-height:12px;color:#000;transform:scale(0.8747,1.0000);transform-origin:0 0;">25 Apr 2019</div>
<div class="abs" style="left:581px;top:800px;width:1px;height:3px;background:#000"></div>
<div class="x" style="left:580px;top:803px;font-size:11px;line-height:12px;color:#000;transform:scale(0.8679,1.0000);transform-origin:0 0;">14 May 2019</div>
<div class="abs" style="left:645px;top:800px;width:1px;height:3px;background:#000"></div>
<div class="x" style="left:644px;top:803px;font-size:11px;line-height:12px;color:#000;transform:scale(0.8432,1.0000);transform-origin:0 0;">2 Jun 2019</div>
<div class="abs" style="left:709px;top:800px;width:1px;height:3px;background:#000"></div>
<div class="x" style="left:708px;top:803px;font-size:11px;line-height:12px;color:#000;transform:scale(0.8356,1.0000);transform-origin:0 0;">20 Jun 2019</div>
<div class="abs" style="left:773px;top:800px;width:1px;height:3px;background:#000"></div>
<div class="x" style="left:772px;top:803px;font-size:11px;line-height:12px;color:#000;transform:scale(0.8451,1.0000);transform-origin:0 0;">9 Jul 2019</div>
<div class="abs" style="left:837px;top:800px;width:1px;height:3px;background:#000"></div>
<div class="x" style="left:836px;top:803px;font-size:11px;line-height:12px;color:#000;transform:scale(0.8228,1.0000);transform-origin:0 0;">28 Jul 2019</div>
<div class="abs" style="left:901px;top:800px;width:1px;height:3px;background:#000"></div>
<div class="x" style="left:900px;top:803px;font-size:11px;line-height:12px;color:#000;transform:scale(0.8675,1.0000);transform-origin:0 0;">15 Aug 2019</div>
<div class="abs" style="left:965px;top:800px;width:1px;height:3px;background:#000"></div>
<div class="x" style="left:964px;top:803px;font-size:11px;line-height:12px;color:#000;transform:scale(0.8494,1.0000);transform-origin:0 0;">3 Sep 2019</div>
<div class="abs" style="left:1029px;top:800px;width:1px;height:3px;background:#000"></div>
<div class="x" style="left:1028px;top:803px;font-size:11px;line-height:12px;color:#000;transform:scale(0.8431,1.0000);transform-origin:0 0;">22 Sep 2019</div>
<div class="abs" style="left:1093px;top:800px;width:1px;height:3px;background:#000"></div>
<div class="x" style="left:1092px;top:803px;font-size:11px;line-height:12px;color:#000;transform:scale(0.8543,1.0000);transform-origin:0 0;">10 Oct 2019</div>
<div class="abs" style="left:0;top:822px;width:1463px;height:1px;background:#000"></div>
<div class="abs" style="left:0;top:823px;width:1463px;height:19px;background:#f0f0f0"></div>
<div class="abs" style="left:0;top:842px;width:1463px;height:3px;background:#fff"></div>
<div class="abs" style="left:0;top:845px;width:1463px;height:1px;background:#b4b4b4"></div>
<div class="abs" style="left:0;top:846px;width:1463px;height:1px;background:#a0a0a0"></div>
<div class="abs" style="left:0;top:823px;width:2px;height:19px;background:#8c8c8c"></div>
<div class="abs" style="left:330px;top:822px;width:108px;height:19px;background:#fff;border:1px solid #000;border-top:none;box-sizing:border-box"></div>
<div class="x" style="left:16.7px;top:826px;font-size:12px;line-height:14px;color:#6a6a6a;transform:scale(1.0133,1.0000);transform-origin:0 0;">EURUSD-,Daily</div>
<div class="x" style="left:123.2px;top:826px;font-size:12px;line-height:14px;color:#6a6a6a;transform:scale(1.0487,1.0000);transform-origin:0 0;">AUDUSD-,Daily</div>
<div class="x" style="left:233.8px;top:826px;font-size:12px;line-height:14px;color:#6a6a6a;transform:scale(1.0083,1.0000);transform-origin:0 0;">USDCHF-,Daily</div>
<div class="x" style="left:340.9px;top:826px;font-size:12px;line-height:14px;color:#000;transform:scale(1.0286,1.0000);transform-origin:0 0;">USDCAD-,Daily</div>
<div class="x" style="left:450.4px;top:826px;font-size:12px;line-height:14px;color:#6a6a6a;transform:scale(1.0335,1.0000);transform-origin:0 0;">USDCNH-,Daily</div>
<div class="x" style="left:561.4px;top:826px;font-size:12px;line-height:14px;color:#6a6a6a;transform:scale(1.0067,1.0000);transform-origin:0 0;">EURCHF-,Weekly</div>
<div class="x" style="left:682px;top:826px;font-size:12px;line-height:14px;color:#6a6a6a;transform:scale(1.0408,1.0000);transform-origin:0 0;">XAUUSD-,Weekly</div>
<div class="x" style="left:804.8px;top:826px;font-size:12px;line-height:14px;color:#6a6a6a;transform:scale(1.0048,1.0000);transform-origin:0 0;">GBPUSD-,H1</div>
<div class="x" style="left:901.3px;top:826px;font-size:12px;line-height:14px;color:#6a6a6a;transform:scale(1.0536,1.0000);transform-origin:0 0;">UKOil-,H1</div>
<div class="x" style="left:980px;top:826px;font-size:12px;line-height:14px;color:#6a6a6a;transform:scale(1.0452,1.0000);transform-origin:0 0;">USDX-,Weekly</div>
<div class="x" style="left:1083.8px;top:826px;font-size:12px;line-height:14px;color:#6a6a6a;transform:scale(0.9825,1.0000);transform-origin:0 0;">EURCHF-,H1</div>
<div class="x" style="left:1178.3px;top:826px;font-size:12px;line-height:14px;color:#6a6a6a;transform:scale(1.0499,1.0000);transform-origin:0 0;">USOil-,H1</div>
<div class="sep" style="left:114px"></div>
<div class="sep" style="left:222px"></div>
<div class="sep" style="left:550px"></div>
<div class="sep" style="left:670px"></div>
<div class="sep" style="left:794px"></div>
<div class="sep" style="left:890px"></div>
<div class="sep" style="left:970px"></div>
<div class="sep" style="left:1074px"></div>
<div class="sep" style="left:1166px"></div>
<div class="sep" style="left:1246px"></div>
<svg class="abs" style="left:1434px;top:827px" width="24" height="10"><path d="M5 1 L5 9 L1 5 Z M19 1 L19 9 L23 5 Z" fill="#8a8a8a"/></svg>
<div class="abs" style="left:1131px;top:24px;width:9px;height:1px;background:#c0c0c0"></div>
<div class="abs" style="left:1132px;top:25px;width:7px;height:1px;background:#c0c0c0"></div>
<div class="abs" style="left:1133px;top:26px;width:5px;height:1px;background:#c0c0c0"></div>
<div class="abs" style="left:1134px;top:27px;width:3px;height:1px;background:#c0c0c0"></div>
<div class="abs" style="left:1135px;top:28px;width:1px;height:1px;background:#c0c0c0"></div>
</body></html>
